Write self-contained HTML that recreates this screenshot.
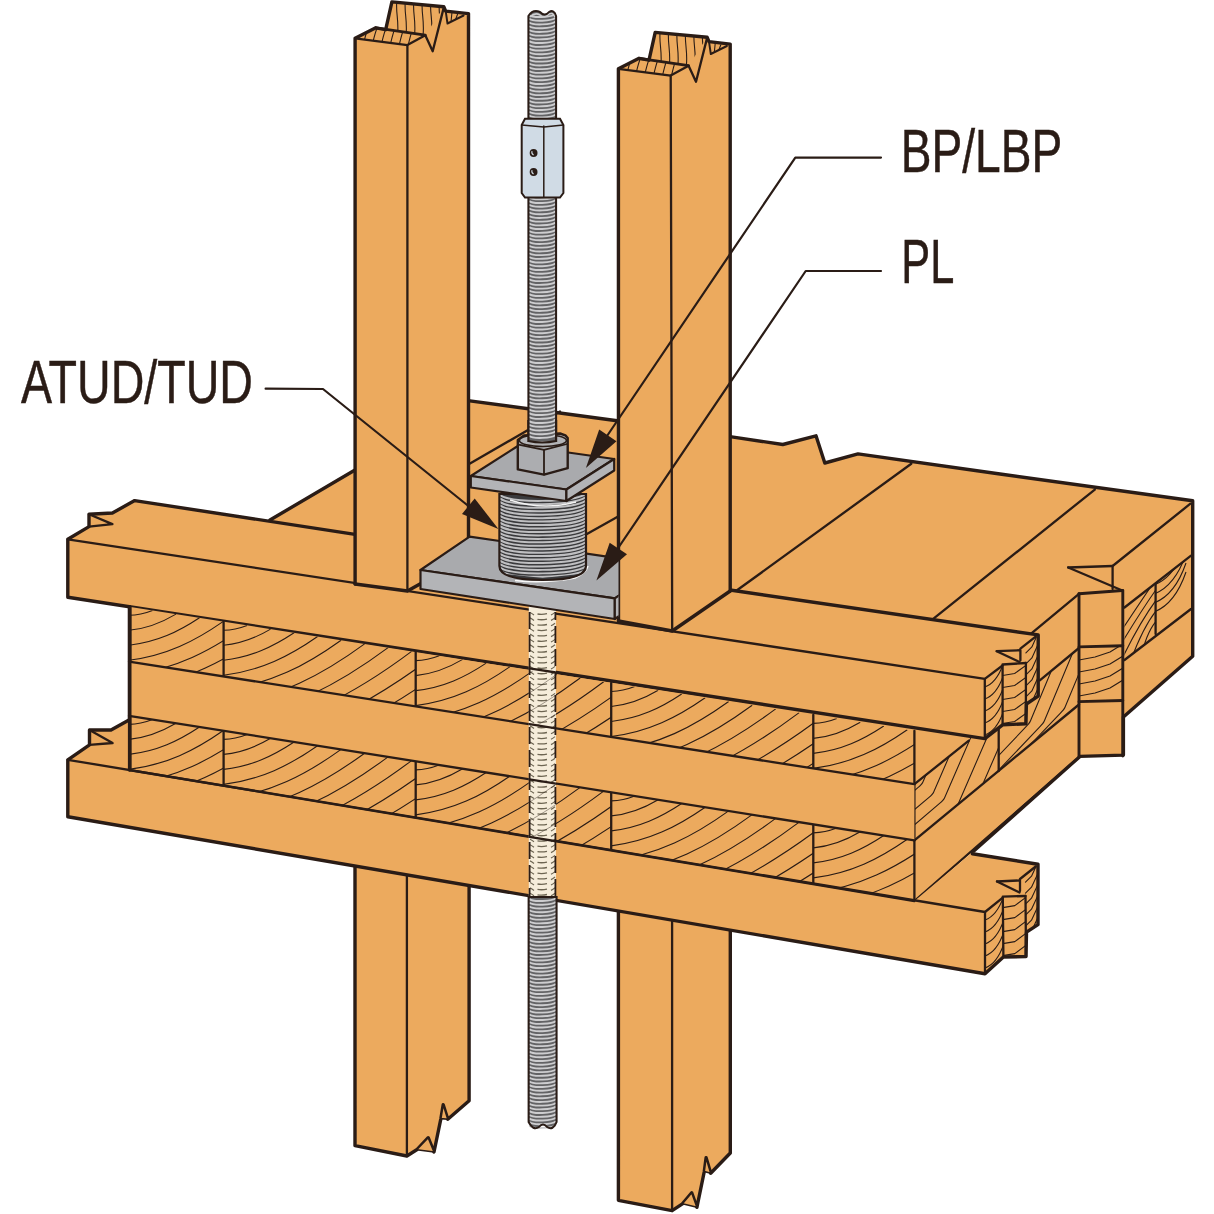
<!DOCTYPE html>
<html><head><meta charset="utf-8"><style>
html,body{margin:0;padding:0;background:#fff;}
svg{display:block;}
</style></head><body>
<svg width="1214" height="1214" viewBox="0 0 1214 1214">
<defs><clipPath id="c1"><polygon points="1124.5,607.5 1155.6,583.5 1155.6,636.0 1124.5,660.0"/></clipPath><clipPath id="c2"><polygon points="1155.6,583.5 1191.0,555.6 1191.0,609.0 1155.6,636.0"/></clipPath><clipPath id="c3"><polygon points="1079.0,646.9 1122.8,645.8 1122.8,700.5 1079.0,701.6"/></clipPath><clipPath id="c4"><polygon points="914.4,784.2 998.7,714.5 998.7,770.8 914.4,840.4"/></clipPath><clipPath id="c5"><polygon points="998.7,714.5 1079.0,648.0 1079.0,704.5 998.7,770.8"/></clipPath><clipPath id="c6"><polygon points="984.8,678.9 1002.6,665.5 1002.6,724.8 984.8,738.6"/></clipPath><clipPath id="c7"><polygon points="1002.6,665.5 1025.9,663.0 1025.9,723.8 1002.6,724.8"/></clipPath><clipPath id="c8"><polygon points="1035.3,636.9 1038.2,634.9 1038.2,696.1 1026.4,704.0 1025.9,663.0 1020.4,660.6 1020.4,648.7"/></clipPath><clipPath id="c9"><polygon points="385.7,29.7 391.9,1.9 443.8,6.8 425.3,35.2"/></clipPath><clipPath id="c10"><polygon points="355.1,38.3 375.8,27.8 425.3,35.2 407.4,45.1"/></clipPath><clipPath id="c11"><polygon points="445.7,11.1 447.5,23.5 463.6,15.5"/></clipPath><clipPath id="c12"><polygon points="649.0,60.2 655.2,32.4 707.1,37.3 688.6,65.7"/></clipPath><clipPath id="c13"><polygon points="618.4,68.8 639.1,58.3 688.6,65.7 670.7,75.6"/></clipPath><clipPath id="c14"><polygon points="709.0,41.6 710.8,54.0 726.9,46.0"/></clipPath><clipPath id="c15"><polygon points="129.0,606.7 223.6,621.6 223.6,676.5 129.0,661.7"/></clipPath><clipPath id="c16"><polygon points="129.0,715.8 223.6,730.8 223.6,785.7 129.0,770.0"/></clipPath><clipPath id="c17"><polygon points="223.6,621.6 415.7,652.0 415.7,706.4 223.6,676.5"/></clipPath><clipPath id="c18"><polygon points="223.6,730.8 415.7,761.3 415.7,817.6 223.6,785.7"/></clipPath><clipPath id="c19"><polygon points="415.7,652.0 611.2,682.9 611.2,736.9 415.7,706.4"/></clipPath><clipPath id="c20"><polygon points="415.7,761.3 611.2,792.3 611.2,850.0 415.7,817.6"/></clipPath><clipPath id="c21"><polygon points="611.2,682.9 813.3,714.8 813.3,768.5 611.2,736.9"/></clipPath><clipPath id="c22"><polygon points="611.2,792.3 813.3,824.3 813.3,883.6 611.2,850.0"/></clipPath><clipPath id="c23"><polygon points="813.3,714.8 914.4,730.8 914.4,784.2 813.3,768.5"/></clipPath><clipPath id="c24"><polygon points="813.3,824.3 914.4,840.4 914.4,900.4 813.3,883.6"/></clipPath><clipPath id="c25"><polygon points="985.0,912.0 1002.8,897.6 1003.4,957.0 985.0,973.7"/></clipPath><clipPath id="c26"><polygon points="1002.8,897.6 1025.5,896.0 1026.0,956.5 1003.4,957.0"/></clipPath><clipPath id="c27"><polygon points="1035.7,866.5 1038.0,864.2 1038.0,924.7 1026.5,932.2 1025.5,896.0 1020.0,891.0 1020.0,879.0"/></clipPath><clipPath id="c28"><polygon points="528.8,600.0 555.9,600.0 555.9,897.0 528.8,897.0"/></clipPath><clipPath id="c29"><polygon points="528.0,897.0 557.0,897.0 557.0,1135.0 528.0,1135.0"/></clipPath><clipPath id="c30"><polygon points="400.0,520.0 618.5,520.0 618.5,630.0 400.0,630.0"/></clipPath><clipPath id="c31"><polygon points="499.4,490.0 586.0,490.0 586.0,566.0 580.0,574.0 542.7,578.0 505.0,574.0 499.4,566.0"/></clipPath></defs>
<rect width="1214" height="1214" fill="#fff"/>
<polygon points="270.0,520.0 468.0,401.0 619.0,421.0 730.0,436.6 782.8,444.5 816.0,435.8 824.8,463.0 858.0,453.9 1000.0,474.0 1192.7,500.8 1192.7,656.3 1123.4,717.0 1123.4,755.1 1080.0,756.4 972.4,852.2 914.4,901.0 129.0,770.0 129.0,600.0 200.0,520.0" fill="#ecaa5e" stroke="none" stroke-width="0" stroke-linejoin="round" />
<polyline points="270.0,520.0 355.0,470.0" fill="none" stroke="#2a1c16" stroke-width="3.4" stroke-linejoin="round" stroke-linecap="round" />
<polyline points="468.0,400.6 619.0,421.0" fill="none" stroke="#2a1c16" stroke-width="3.4" stroke-linejoin="round" stroke-linecap="round" />
<polyline points="730.0,436.6 782.8,444.5 816.0,435.8 824.8,463.0 858.0,453.9 1000.0,474.0 1192.7,500.8 1192.7,656.3 1123.4,717.0 1123.4,755.1 1080.0,756.4 972.4,852.2" fill="none" stroke="#2a1c16" stroke-width="3.4" stroke-linejoin="round" stroke-linecap="round" />
<polyline points="737.0,590.3 911.3,463.8" fill="none" stroke="#2a1c16" stroke-width="2.3" stroke-linejoin="round" stroke-linecap="round" />
<polyline points="933.5,618.7 1094.8,489.6" fill="none" stroke="#2a1c16" stroke-width="2.3" stroke-linejoin="round" stroke-linecap="round" />
<polyline points="470.0,463.6 560.0,411.5" fill="none" stroke="#2a1c16" stroke-width="2.3" stroke-linejoin="round" stroke-linecap="round" />
<polyline points="586.0,534.5 619.0,516.0" fill="none" stroke="#2a1c16" stroke-width="2.3" stroke-linejoin="round" stroke-linecap="round" />
<polyline points="1190.4,503.7 1112.6,566.0 1112.6,589.0" fill="none" stroke="#2a1c16" stroke-width="2.3" stroke-linejoin="round" stroke-linecap="round" />
<polyline points="1068.2,567.5 1112.6,566.0" fill="none" stroke="#2a1c16" stroke-width="2.3" stroke-linejoin="round" stroke-linecap="round" />
<polyline points="1068.2,567.5 1122.3,590.5" fill="none" stroke="#2a1c16" stroke-width="2.3" stroke-linejoin="round" stroke-linecap="round" />
<polyline points="1124.5,607.5 1191.0,555.6" fill="none" stroke="#2a1c16" stroke-width="2.3" stroke-linejoin="round" stroke-linecap="round" />
<polyline points="1124.5,660.0 1191.0,609.0" fill="none" stroke="#2a1c16" stroke-width="2.3" stroke-linejoin="round" stroke-linecap="round" />
<polyline points="1155.6,583.8 1155.6,634.0" fill="none" stroke="#2a1c16" stroke-width="2.3" stroke-linejoin="round" stroke-linecap="round" />
<g clip-path="url(#c1)">
<path d="M1140.2,662.0 Q1145.8,631.6 1158.0,619.2" fill="none" stroke="#2a1c16" stroke-width="1.1"/>
<path d="M1130.3,662.0 Q1143.1,626.2 1158.0,608.4" fill="none" stroke="#2a1c16" stroke-width="1.1"/>
<path d="M1120.4,662.0 Q1140.4,620.8 1158.0,597.6" fill="none" stroke="#2a1c16" stroke-width="1.1"/>
<path d="M1110.5,662.0 Q1137.7,615.4 1158.0,586.8" fill="none" stroke="#2a1c16" stroke-width="1.1"/>
<path d="M1100.6,662.0 Q1135.0,610.0 1158.0,576.0" fill="none" stroke="#2a1c16" stroke-width="1.1"/>
</g>
<g clip-path="url(#c2)">
<path d="M1154,612.0 Q1175,604.0 1186.0,572.0" fill="none" stroke="#2a1c16" stroke-width="1.1"/>
<path d="M1154,603.0 Q1175,595.0 1186.0,563.0" fill="none" stroke="#2a1c16" stroke-width="1.1"/>
<path d="M1154,594.0 Q1175,586.0 1186.0,554.0" fill="none" stroke="#2a1c16" stroke-width="1.1"/>
<path d="M1154,585.0 Q1175,577.0 1186.0,545.0" fill="none" stroke="#2a1c16" stroke-width="1.1"/>
<path d="M1154,576.0 Q1175,568.0 1186.0,536.0" fill="none" stroke="#2a1c16" stroke-width="1.1"/>
<path d="M1154,567.0 Q1175,559.0 1186.0,527.0" fill="none" stroke="#2a1c16" stroke-width="1.1"/>
</g>
<polyline points="1079.0,593.8 1122.3,590.5" fill="none" stroke="#2a1c16" stroke-width="2.9" stroke-linejoin="round" stroke-linecap="round" />
<polyline points="1079.0,593.8 1079.0,756.6" fill="none" stroke="#2a1c16" stroke-width="2.9" stroke-linejoin="round" stroke-linecap="round" />
<polyline points="1122.8,590.5 1122.8,756.0" fill="none" stroke="#2a1c16" stroke-width="2.9" stroke-linejoin="round" stroke-linecap="round" />
<polyline points="1079.0,646.9 1122.8,645.8" fill="none" stroke="#2a1c16" stroke-width="2.9" stroke-linejoin="round" stroke-linecap="round" />
<polyline points="1079.0,701.6 1122.8,700.5" fill="none" stroke="#2a1c16" stroke-width="2.9" stroke-linejoin="round" stroke-linecap="round" />
<g clip-path="url(#c3)">
<polyline points="1079.0,660.0 1095.0,657.0 1110.0,652.0 1123.0,644.0" fill="none" stroke="#2a1c16" stroke-width="1.1" stroke-linejoin="round" stroke-linecap="round" />
<polyline points="1079.0,672.0 1095.0,669.0 1110.0,664.0 1123.0,656.0" fill="none" stroke="#2a1c16" stroke-width="1.1" stroke-linejoin="round" stroke-linecap="round" />
<polyline points="1079.0,684.0 1095.0,681.0 1110.0,676.0 1123.0,668.0" fill="none" stroke="#2a1c16" stroke-width="1.1" stroke-linejoin="round" stroke-linecap="round" />
<polyline points="1079.0,696.0 1095.0,693.0 1110.0,688.0 1123.0,680.0" fill="none" stroke="#2a1c16" stroke-width="1.1" stroke-linejoin="round" stroke-linecap="round" />
</g>
<polyline points="1031.1,633.6 1079.0,593.8" fill="none" stroke="#2a1c16" stroke-width="2.3" stroke-linejoin="round" stroke-linecap="round" />
<polyline points="1039.8,680.3 1079.0,648.0" fill="none" stroke="#2a1c16" stroke-width="2.3" stroke-linejoin="round" stroke-linecap="round" />
<polyline points="914.4,784.2 968.8,740.7" fill="none" stroke="#2a1c16" stroke-width="2.3" stroke-linejoin="round" stroke-linecap="round" />
<polyline points="914.4,840.4 1079.0,704.5" fill="none" stroke="#2a1c16" stroke-width="2.3" stroke-linejoin="round" stroke-linecap="round" />
<polyline points="914.4,901.0 1080.0,756.4" fill="none" stroke="#2a1c16" stroke-width="2.3" stroke-linejoin="round" stroke-linecap="round" />
<polyline points="998.7,729.0 998.7,771.0" fill="none" stroke="#2a1c16" stroke-width="2.3" stroke-linejoin="round" stroke-linecap="round" />
<g clip-path="url(#c4)">
<path d="M831.9,860.8 L917.9,787.7 Q921.9,784.3 922.8,782.3 L961.0,694.3" fill="none" stroke="#2a1c16" stroke-width="1.1"/>
<path d="M842.7,870.7 L928.7,797.6 Q932.7,794.2 933.6,792.2 L971.8,704.2" fill="none" stroke="#2a1c16" stroke-width="1.1"/>
<path d="M853.6,876.5 L939.6,803.4 Q943.6,800.0 944.5,798.0 L982.7,710.0" fill="none" stroke="#2a1c16" stroke-width="1.1"/>
<path d="M866.4,884.5 L952.4,811.4 Q956.4,808.0 957.3,806.0 L995.5,718.0" fill="none" stroke="#2a1c16" stroke-width="1.1"/>
<path d="M885.0,878.5 L971.0,805.4 Q975.0,802.0 975.9,800.0 L1014.1,712.0" fill="none" stroke="#2a1c16" stroke-width="1.1"/>
</g>
<g clip-path="url(#c5)">
<path d="M939.6,817.5 L1025.6,727.2 Q1029.6,723.0 1030.4,721.0 L1067.1,633.0" fill="none" stroke="#2a1c16" stroke-width="1.1"/>
<path d="M953.5,817.5 L1039.5,727.2 Q1043.5,723.0 1044.3,721.0 L1081.0,633.0" fill="none" stroke="#2a1c16" stroke-width="1.1"/>
<path d="M974.2,803.7 L1060.2,713.4 Q1064.2,709.2 1065.0,707.2 L1101.7,619.2" fill="none" stroke="#2a1c16" stroke-width="1.1"/>
</g>
<polygon points="67.8,539.3 89.0,526.6 89.0,514.2 112.4,513.0 134.7,500.6 1038.2,634.9 1038.2,696.1 1026.4,704.0 1025.9,723.8 1002.6,724.8 984.8,738.6 67.8,597.2" fill="#ecaa5e" stroke="none" stroke-width="0" stroke-linejoin="round" />
<polyline points="355.0,534.4 134.7,500.6 112.4,513.0 89.0,514.2 89.0,526.6 67.8,539.3 67.8,597.2 984.8,738.6 1002.6,724.8 1025.9,723.8 1026.4,704.0 1038.2,696.1 1038.2,634.9 730.0,590.0" fill="none" stroke="#2a1c16" stroke-width="3.4" stroke-linejoin="round" stroke-linecap="round" />
<polyline points="67.8,539.3 984.8,678.9 984.8,738.6" fill="none" stroke="#2a1c16" stroke-width="2.3" stroke-linejoin="round" stroke-linecap="round" />
<polyline points="89.0,526.6 112.4,524.1 89.0,514.2" fill="none" stroke="#2a1c16" stroke-width="2.3" stroke-linejoin="round" stroke-linecap="round" />
<polyline points="984.8,678.9 1002.6,665.5" fill="none" stroke="#2a1c16" stroke-width="2.3" stroke-linejoin="round" stroke-linecap="round" />
<polyline points="1002.6,665.5 1002.6,724.8" fill="none" stroke="#2a1c16" stroke-width="2.3" stroke-linejoin="round" stroke-linecap="round" />
<polyline points="1002.6,664.5 1025.9,663.0" fill="none" stroke="#2a1c16" stroke-width="2.3" stroke-linejoin="round" stroke-linecap="round" />
<polyline points="1025.9,663.0 1025.9,723.8" fill="none" stroke="#2a1c16" stroke-width="2.3" stroke-linejoin="round" stroke-linecap="round" />
<polyline points="996.7,651.2 1020.4,650.2 1020.4,660.6" fill="none" stroke="#2a1c16" stroke-width="2.3" stroke-linejoin="round" stroke-linecap="round" />
<polyline points="996.7,651.2 1019.4,662.0" fill="none" stroke="#2a1c16" stroke-width="2.3" stroke-linejoin="round" stroke-linecap="round" />
<polyline points="1020.4,648.7 1035.3,636.9" fill="none" stroke="#2a1c16" stroke-width="2.3" stroke-linejoin="round" stroke-linecap="round" />
<g clip-path="url(#c6)">
<path d="M984.8,686.9 Q996.8,682.9 1003.6,662.9" fill="none" stroke="#2a1c16" stroke-width="1.1"/>
<path d="M984.8,698.9 Q996.8,694.9 1003.6,674.9" fill="none" stroke="#2a1c16" stroke-width="1.1"/>
<path d="M984.8,710.9 Q996.8,706.9 1003.6,686.9" fill="none" stroke="#2a1c16" stroke-width="1.1"/>
<path d="M984.8,722.9 Q996.8,718.9 1003.6,698.9" fill="none" stroke="#2a1c16" stroke-width="1.1"/>
<path d="M984.8,734.9 Q996.8,730.9 1003.6,710.9" fill="none" stroke="#2a1c16" stroke-width="1.1"/>
</g>
<g clip-path="url(#c7)">
<polyline points="1002.6,675.5 1014.6,673.5 1025.9,665.5" fill="none" stroke="#2a1c16" stroke-width="1.1" stroke-linejoin="round" stroke-linecap="round" />
<polyline points="1002.6,687.5 1014.6,685.5 1025.9,677.5" fill="none" stroke="#2a1c16" stroke-width="1.1" stroke-linejoin="round" stroke-linecap="round" />
<polyline points="1002.6,699.5 1014.6,697.5 1025.9,689.5" fill="none" stroke="#2a1c16" stroke-width="1.1" stroke-linejoin="round" stroke-linecap="round" />
<polyline points="1002.6,711.5 1014.6,709.5 1025.9,701.5" fill="none" stroke="#2a1c16" stroke-width="1.1" stroke-linejoin="round" stroke-linecap="round" />
<polyline points="1002.6,723.5 1014.6,721.5 1025.9,713.5" fill="none" stroke="#2a1c16" stroke-width="1.1" stroke-linejoin="round" stroke-linecap="round" />
</g>
<g clip-path="url(#c8)">
<polyline points="1025.9,652.9 1031.9,646.9 1038.2,632.9" fill="none" stroke="#2a1c16" stroke-width="1.1" stroke-linejoin="round" stroke-linecap="round" />
<polyline points="1025.9,663.9 1031.9,657.9 1038.2,643.9" fill="none" stroke="#2a1c16" stroke-width="1.1" stroke-linejoin="round" stroke-linecap="round" />
<polyline points="1025.9,674.9 1031.9,668.9 1038.2,654.9" fill="none" stroke="#2a1c16" stroke-width="1.1" stroke-linejoin="round" stroke-linecap="round" />
<polyline points="1025.9,685.9 1031.9,679.9 1038.2,665.9" fill="none" stroke="#2a1c16" stroke-width="1.1" stroke-linejoin="round" stroke-linecap="round" />
<polyline points="1025.9,696.9 1031.9,690.9 1038.2,676.9" fill="none" stroke="#2a1c16" stroke-width="1.1" stroke-linejoin="round" stroke-linecap="round" />
<polyline points="1025.9,707.9 1031.9,701.9 1038.2,687.9" fill="none" stroke="#2a1c16" stroke-width="1.1" stroke-linejoin="round" stroke-linecap="round" />
</g>
<polygon points="355.1,38.3 375.8,27.8 385.7,29.7 391.9,1.9 443.8,6.8 445.7,11.1 468.5,13.6 468.5,557.0 407.4,591.0 355.1,584.0" fill="#ecaa5e" stroke="none" stroke-width="0" stroke-linejoin="round" />
<g clip-path="url(#c9)">
<path d="M397.0,0 C395.0,12 400.0,22 397.0,40" fill="none" stroke="#2a1c16" stroke-width="1.1"/>
<path d="M405.5,0 C403.5,12 408.5,22 405.5,40" fill="none" stroke="#2a1c16" stroke-width="1.1"/>
<path d="M414.0,0 C412.0,12 417.0,22 414.0,40" fill="none" stroke="#2a1c16" stroke-width="1.1"/>
<path d="M422.5,0 C420.5,12 425.5,22 422.5,40" fill="none" stroke="#2a1c16" stroke-width="1.1"/>
<path d="M431.0,0 C429.0,12 434.0,22 431.0,40" fill="none" stroke="#2a1c16" stroke-width="1.1"/>
<path d="M439.5,0 C437.5,12 442.5,22 439.5,40" fill="none" stroke="#2a1c16" stroke-width="1.1"/>
</g>
<g clip-path="url(#c10)">
<path d="M369,26 C366,32 365,38 363,46" fill="none" stroke="#2a1c16" stroke-width="1.1"/>
<path d="M378,26 C375,32 374,38 372,46" fill="none" stroke="#2a1c16" stroke-width="1.1"/>
<path d="M387,26 C384,32 383,38 381,46" fill="none" stroke="#2a1c16" stroke-width="1.1"/>
<path d="M396,26 C393,32 392,38 390,46" fill="none" stroke="#2a1c16" stroke-width="1.1"/>
<path d="M405,26 C402,32 401,38 399,46" fill="none" stroke="#2a1c16" stroke-width="1.1"/>
<path d="M414,26 C411,32 410,38 408,46" fill="none" stroke="#2a1c16" stroke-width="1.1"/>
</g>
<g clip-path="url(#c11)">
<polyline points="452.0,12.0 451.0,22.0" fill="none" stroke="#2a1c16" stroke-width="1.1" stroke-linejoin="round" stroke-linecap="round" />
<polyline points="458.0,13.0 455.0,21.0" fill="none" stroke="#2a1c16" stroke-width="1.1" stroke-linejoin="round" stroke-linecap="round" />
</g>
<polyline points="355.1,584.0 355.1,38.3 375.8,27.8 385.7,29.7 391.9,1.9 443.8,6.8 445.7,11.1 468.5,13.6 468.5,557.0" fill="none" stroke="#2a1c16" stroke-width="3.4" stroke-linejoin="round" stroke-linecap="round" />
<polyline points="355.1,38.3 407.4,45.1 425.3,35.2 432.7,51.3 443.8,7.4" fill="none" stroke="#2a1c16" stroke-width="2.3" stroke-linejoin="round" stroke-linecap="round" />
<polyline points="375.8,27.8 425.3,35.2" fill="none" stroke="#2a1c16" stroke-width="2.8" stroke-linejoin="round" stroke-linecap="round" />
<polyline points="445.7,11.1 447.5,23.5 463.6,15.5" fill="none" stroke="#2a1c16" stroke-width="1.9549999999999998" stroke-linejoin="round" stroke-linecap="round" />
<polyline points="407.4,45.1 407.4,591.0" fill="none" stroke="#2a1c16" stroke-width="2.3" stroke-linejoin="round" stroke-linecap="round" />
<polyline points="355.1,584.0 407.4,591.0 468.5,557.0" fill="none" stroke="#2a1c16" stroke-width="3.4" stroke-linejoin="round" stroke-linecap="round" />
<polygon points="618.4,68.8 639.1,58.3 649.0,60.2 655.2,32.4 707.1,37.3 709.0,41.6 730.2,44.1 730.2,591.0 672.2,631.0 618.5,621.0" fill="#ecaa5e" stroke="none" stroke-width="0" stroke-linejoin="round" />
<g clip-path="url(#c12)">
<path d="M660.3,30.5 C658.3,42.5 663.3,52.5 660.3,70.5" fill="none" stroke="#2a1c16" stroke-width="1.1"/>
<path d="M668.8,30.5 C666.8,42.5 671.8,52.5 668.8,70.5" fill="none" stroke="#2a1c16" stroke-width="1.1"/>
<path d="M677.3,30.5 C675.3,42.5 680.3,52.5 677.3,70.5" fill="none" stroke="#2a1c16" stroke-width="1.1"/>
<path d="M685.8,30.5 C683.8,42.5 688.8,52.5 685.8,70.5" fill="none" stroke="#2a1c16" stroke-width="1.1"/>
<path d="M694.3,30.5 C692.3,42.5 697.3,52.5 694.3,70.5" fill="none" stroke="#2a1c16" stroke-width="1.1"/>
<path d="M702.8,30.5 C700.8,42.5 705.8,52.5 702.8,70.5" fill="none" stroke="#2a1c16" stroke-width="1.1"/>
</g>
<g clip-path="url(#c13)">
<path d="M632.3,56.5 C629.3,62.5 628.3,68.5 626.3,76.5" fill="none" stroke="#2a1c16" stroke-width="1.1"/>
<path d="M641.3,56.5 C638.3,62.5 637.3,68.5 635.3,76.5" fill="none" stroke="#2a1c16" stroke-width="1.1"/>
<path d="M650.3,56.5 C647.3,62.5 646.3,68.5 644.3,76.5" fill="none" stroke="#2a1c16" stroke-width="1.1"/>
<path d="M659.3,56.5 C656.3,62.5 655.3,68.5 653.3,76.5" fill="none" stroke="#2a1c16" stroke-width="1.1"/>
<path d="M668.3,56.5 C665.3,62.5 664.3,68.5 662.3,76.5" fill="none" stroke="#2a1c16" stroke-width="1.1"/>
<path d="M677.3,56.5 C674.3,62.5 673.3,68.5 671.3,76.5" fill="none" stroke="#2a1c16" stroke-width="1.1"/>
</g>
<g clip-path="url(#c14)">
<polyline points="715.3,42.5 714.3,52.5" fill="none" stroke="#2a1c16" stroke-width="1.1" stroke-linejoin="round" stroke-linecap="round" />
<polyline points="721.3,43.5 718.3,51.5" fill="none" stroke="#2a1c16" stroke-width="1.1" stroke-linejoin="round" stroke-linecap="round" />
</g>
<polyline points="618.5,621.0 618.4,68.8 639.1,58.3 649.0,60.2 655.2,32.4 707.1,37.3 709.0,41.6 730.2,44.1 730.2,591.0" fill="none" stroke="#2a1c16" stroke-width="3.4" stroke-linejoin="round" stroke-linecap="round" />
<polyline points="618.4,68.8 670.7,75.6 688.6,65.7 696.0,81.8 707.1,37.9" fill="none" stroke="#2a1c16" stroke-width="2.3" stroke-linejoin="round" stroke-linecap="round" />
<polyline points="639.1,58.3 688.6,65.7" fill="none" stroke="#2a1c16" stroke-width="2.8" stroke-linejoin="round" stroke-linecap="round" />
<polyline points="709.0,41.6 710.8,54.0 726.9,46.0" fill="none" stroke="#2a1c16" stroke-width="1.9549999999999998" stroke-linejoin="round" stroke-linecap="round" />
<polyline points="670.7,75.6 672.2,631.0" fill="none" stroke="#2a1c16" stroke-width="2.3" stroke-linejoin="round" stroke-linecap="round" />
<polyline points="618.5,621.0 672.2,631.0 730.2,591.0" fill="none" stroke="#2a1c16" stroke-width="3.4" stroke-linejoin="round" stroke-linecap="round" />
<polygon points="355.0,840.0 469.1,840.0 469.1,1100.8 447.8,1119.2 443.2,1104.8 440.9,1118.6 434.0,1152.0 428.2,1137.7 416.7,1149.8 406.9,1156.0 355.0,1145.7" fill="#ecaa5e" stroke="none" stroke-width="0" stroke-linejoin="round" />
<polyline points="355.0,840.0 355.0,1145.7 406.9,1156.0 416.7,1149.8 428.2,1137.7 434.0,1152.0 440.9,1118.6 443.2,1104.8 447.8,1119.2 469.1,1100.8 469.1,840.0" fill="none" stroke="#2a1c16" stroke-width="3.4" stroke-linejoin="round" stroke-linecap="round" />
<polyline points="406.9,840.0 406.9,1156.0" fill="none" stroke="#2a1c16" stroke-width="2.3" stroke-linejoin="round" stroke-linecap="round" />
<polygon points="416.7,1149.8 428.2,1137.7 434.0,1152.0" fill="#ecaa5e" stroke="#2a1c16" stroke-width="1.6" stroke-linejoin="round" />
<polygon points="440.9,1118.6 443.2,1104.8 447.8,1119.2" fill="#ecaa5e" stroke="#2a1c16" stroke-width="1.6" stroke-linejoin="round" />
<polygon points="618.4,885.0 730.3,885.0 730.3,1153.0 710.7,1173.2 706.1,1157.7 704.3,1171.5 696.9,1207.3 691.7,1192.8 682.4,1203.8 672.1,1210.7 618.4,1200.3" fill="#ecaa5e" stroke="none" stroke-width="0" stroke-linejoin="round" />
<polyline points="618.4,885.0 618.4,1200.3 672.1,1210.7 682.4,1203.8 691.7,1192.8 696.9,1207.3 704.3,1171.5 706.1,1157.7 710.7,1173.2 730.3,1153.0 730.3,885.0" fill="none" stroke="#2a1c16" stroke-width="3.4" stroke-linejoin="round" stroke-linecap="round" />
<polyline points="672.1,885.0 672.1,1210.7" fill="none" stroke="#2a1c16" stroke-width="2.3" stroke-linejoin="round" stroke-linecap="round" />
<polygon points="682.4,1203.8 691.7,1192.8 696.9,1207.3" fill="#ecaa5e" stroke="#2a1c16" stroke-width="1.6" stroke-linejoin="round" />
<polygon points="704.3,1171.5 706.1,1157.7 710.7,1173.2" fill="#ecaa5e" stroke="#2a1c16" stroke-width="1.6" stroke-linejoin="round" />
<polygon points="129.0,606.7 914.4,730.8 914.4,784.2 129.0,661.7" fill="#ecaa5e" stroke="none" stroke-width="0" stroke-linejoin="round" />
<g clip-path="url(#c15)">
<path d="M129.0,615.3 C138.4,615.1 145.4,613.2 152.5,610.4" fill="none" stroke="#2a1c16" stroke-width="1.1"/>
<path d="M129.0,630.3 C147.8,628.6 161.9,622.5 176.0,614.1" fill="none" stroke="#2a1c16" stroke-width="1.1"/>
<path d="M129.0,645.3 C157.2,642.0 178.3,631.9 199.5,617.8" fill="none" stroke="#2a1c16" stroke-width="1.1"/>
<path d="M129.0,660.3 C166.6,655.5 194.8,641.2 223.0,621.6" fill="none" stroke="#2a1c16" stroke-width="1.1"/>
<path d="M129.0,675.3 C176.0,669.0 211.2,650.6 246.5,625.3" fill="none" stroke="#2a1c16" stroke-width="1.1"/>
<path d="M129.0,690.3 C185.4,682.5 227.7,659.9 270.0,629.0" fill="none" stroke="#2a1c16" stroke-width="1.1"/>
</g>
<g clip-path="url(#c16)">
<path d="M129.0,724.4 C138.4,724.2 145.4,722.3 152.5,719.5" fill="none" stroke="#2a1c16" stroke-width="1.1"/>
<path d="M129.0,739.4 C147.8,737.7 161.9,731.6 176.0,723.3" fill="none" stroke="#2a1c16" stroke-width="1.1"/>
<path d="M129.0,754.4 C157.2,751.2 178.3,741.0 199.5,727.0" fill="none" stroke="#2a1c16" stroke-width="1.1"/>
<path d="M129.0,769.4 C166.6,764.6 194.8,750.4 223.0,730.7" fill="none" stroke="#2a1c16" stroke-width="1.1"/>
<path d="M129.0,784.4 C176.0,778.1 211.2,759.7 246.5,734.4" fill="none" stroke="#2a1c16" stroke-width="1.1"/>
<path d="M129.0,799.4 C185.4,791.6 227.7,769.1 270.0,738.2" fill="none" stroke="#2a1c16" stroke-width="1.1"/>
</g>
<g clip-path="url(#c17)">
<path d="M223.6,630.2 C233.0,630.0 240.0,628.1 247.1,625.4" fill="none" stroke="#2a1c16" stroke-width="1.1"/>
<path d="M223.6,645.2 C242.4,643.5 256.5,637.5 270.6,629.1" fill="none" stroke="#2a1c16" stroke-width="1.1"/>
<path d="M223.6,660.2 C251.8,657.0 272.9,646.8 294.1,632.8" fill="none" stroke="#2a1c16" stroke-width="1.1"/>
<path d="M223.6,675.2 C261.2,670.5 289.4,656.2 317.6,636.5" fill="none" stroke="#2a1c16" stroke-width="1.1"/>
<path d="M223.6,690.2 C270.6,684.0 305.9,665.5 341.1,640.2" fill="none" stroke="#2a1c16" stroke-width="1.1"/>
<path d="M223.6,705.2 C280.0,697.4 322.3,674.9 364.6,643.9" fill="none" stroke="#2a1c16" stroke-width="1.1"/>
<path d="M223.6,720.2 C289.4,710.9 338.8,684.2 388.1,647.6" fill="none" stroke="#2a1c16" stroke-width="1.1"/>
<path d="M223.6,735.2 C298.8,724.4 355.2,693.6 411.6,651.4" fill="none" stroke="#2a1c16" stroke-width="1.1"/>
<path d="M223.6,750.2 C308.2,737.9 371.6,702.9 435.1,655.1" fill="none" stroke="#2a1c16" stroke-width="1.1"/>
<path d="M223.6,765.2 C317.6,751.4 388.1,712.3 458.6,658.8" fill="none" stroke="#2a1c16" stroke-width="1.1"/>
</g>
<g clip-path="url(#c18)">
<path d="M223.6,739.4 C233.0,739.2 240.0,737.3 247.1,734.5" fill="none" stroke="#2a1c16" stroke-width="1.1"/>
<path d="M223.6,754.4 C242.4,752.7 256.5,746.6 270.6,738.3" fill="none" stroke="#2a1c16" stroke-width="1.1"/>
<path d="M223.6,769.4 C251.8,766.2 272.9,756.0 294.1,742.0" fill="none" stroke="#2a1c16" stroke-width="1.1"/>
<path d="M223.6,784.4 C261.2,779.6 289.4,765.4 317.6,745.7" fill="none" stroke="#2a1c16" stroke-width="1.1"/>
<path d="M223.6,799.4 C270.6,793.1 305.9,774.7 341.1,749.4" fill="none" stroke="#2a1c16" stroke-width="1.1"/>
<path d="M223.6,814.4 C280.0,806.6 322.3,784.1 364.6,753.2" fill="none" stroke="#2a1c16" stroke-width="1.1"/>
<path d="M223.6,829.4 C289.4,820.1 338.8,793.4 388.1,756.9" fill="none" stroke="#2a1c16" stroke-width="1.1"/>
<path d="M223.6,844.4 C298.8,833.6 355.2,802.8 411.6,760.6" fill="none" stroke="#2a1c16" stroke-width="1.1"/>
<path d="M223.6,859.4 C308.2,847.1 371.6,812.2 435.1,764.3" fill="none" stroke="#2a1c16" stroke-width="1.1"/>
<path d="M223.6,874.4 C317.6,860.6 388.1,821.5 458.6,768.1" fill="none" stroke="#2a1c16" stroke-width="1.1"/>
</g>
<g clip-path="url(#c19)">
<path d="M415.7,660.6 C425.1,660.4 432.1,658.5 439.2,655.7" fill="none" stroke="#2a1c16" stroke-width="1.1"/>
<path d="M415.7,675.6 C434.5,673.8 448.6,667.8 462.7,659.4" fill="none" stroke="#2a1c16" stroke-width="1.1"/>
<path d="M415.7,690.6 C443.9,687.3 465.0,677.2 486.2,663.1" fill="none" stroke="#2a1c16" stroke-width="1.1"/>
<path d="M415.7,705.6 C453.3,700.8 481.5,686.5 509.7,666.9" fill="none" stroke="#2a1c16" stroke-width="1.1"/>
<path d="M415.7,720.6 C462.7,714.3 497.9,695.9 533.2,670.6" fill="none" stroke="#2a1c16" stroke-width="1.1"/>
<path d="M415.7,735.6 C472.1,727.8 514.4,705.2 556.7,674.3" fill="none" stroke="#2a1c16" stroke-width="1.1"/>
<path d="M415.7,750.6 C481.5,741.3 530.9,714.6 580.2,678.0" fill="none" stroke="#2a1c16" stroke-width="1.1"/>
<path d="M415.7,765.6 C490.9,754.8 547.3,723.9 603.7,681.7" fill="none" stroke="#2a1c16" stroke-width="1.1"/>
<path d="M415.7,780.6 C500.3,768.2 563.8,733.3 627.2,685.4" fill="none" stroke="#2a1c16" stroke-width="1.1"/>
<path d="M415.7,795.6 C509.7,781.7 580.2,742.6 650.7,689.1" fill="none" stroke="#2a1c16" stroke-width="1.1"/>
</g>
<g clip-path="url(#c20)">
<path d="M415.7,769.9 C425.1,769.6 432.1,767.7 439.2,765.0" fill="none" stroke="#2a1c16" stroke-width="1.1"/>
<path d="M415.7,784.9 C434.5,783.1 448.6,777.1 462.7,768.7" fill="none" stroke="#2a1c16" stroke-width="1.1"/>
<path d="M415.7,799.9 C443.9,796.6 465.0,786.5 486.2,772.5" fill="none" stroke="#2a1c16" stroke-width="1.1"/>
<path d="M415.7,814.9 C453.3,810.1 481.5,795.8 509.7,776.2" fill="none" stroke="#2a1c16" stroke-width="1.1"/>
<path d="M415.7,829.9 C462.7,823.6 497.9,805.2 533.2,779.9" fill="none" stroke="#2a1c16" stroke-width="1.1"/>
<path d="M415.7,844.9 C472.1,837.1 514.4,814.5 556.7,783.6" fill="none" stroke="#2a1c16" stroke-width="1.1"/>
<path d="M415.7,859.9 C481.5,850.6 530.9,823.9 580.2,787.4" fill="none" stroke="#2a1c16" stroke-width="1.1"/>
<path d="M415.7,874.9 C490.9,864.1 547.3,833.3 603.7,791.1" fill="none" stroke="#2a1c16" stroke-width="1.1"/>
<path d="M415.7,889.9 C500.3,877.6 563.8,842.6 627.2,794.8" fill="none" stroke="#2a1c16" stroke-width="1.1"/>
<path d="M415.7,904.9 C509.7,891.1 580.2,852.0 650.7,798.5" fill="none" stroke="#2a1c16" stroke-width="1.1"/>
</g>
<g clip-path="url(#c21)">
<path d="M611.2,691.5 C620.6,691.3 627.7,689.4 634.7,686.6" fill="none" stroke="#2a1c16" stroke-width="1.1"/>
<path d="M611.2,706.5 C630.0,704.7 644.1,698.7 658.2,690.3" fill="none" stroke="#2a1c16" stroke-width="1.1"/>
<path d="M611.2,721.5 C639.4,718.2 660.6,708.1 681.7,694.0" fill="none" stroke="#2a1c16" stroke-width="1.1"/>
<path d="M611.2,736.5 C648.8,731.7 677.0,717.4 705.2,697.7" fill="none" stroke="#2a1c16" stroke-width="1.1"/>
<path d="M611.2,751.5 C658.2,745.2 693.5,726.8 728.7,701.5" fill="none" stroke="#2a1c16" stroke-width="1.1"/>
<path d="M611.2,766.5 C667.6,758.7 709.9,736.1 752.2,705.2" fill="none" stroke="#2a1c16" stroke-width="1.1"/>
<path d="M611.2,781.5 C677.0,772.2 726.4,745.5 775.7,708.9" fill="none" stroke="#2a1c16" stroke-width="1.1"/>
<path d="M611.2,796.5 C686.4,785.6 742.8,754.8 799.2,712.6" fill="none" stroke="#2a1c16" stroke-width="1.1"/>
<path d="M611.2,811.5 C695.8,799.1 759.2,764.1 822.7,716.3" fill="none" stroke="#2a1c16" stroke-width="1.1"/>
<path d="M611.2,826.5 C705.2,812.6 775.7,773.5 846.2,720.0" fill="none" stroke="#2a1c16" stroke-width="1.1"/>
<path d="M611.2,841.5 C714.6,826.1 792.2,782.8 869.7,723.7" fill="none" stroke="#2a1c16" stroke-width="1.1"/>
</g>
<g clip-path="url(#c22)">
<path d="M611.2,800.9 C620.6,800.6 627.7,798.8 634.7,796.0" fill="none" stroke="#2a1c16" stroke-width="1.1"/>
<path d="M611.2,815.9 C630.0,814.1 644.1,808.1 658.2,799.7" fill="none" stroke="#2a1c16" stroke-width="1.1"/>
<path d="M611.2,830.9 C639.4,827.6 660.6,817.5 681.7,803.5" fill="none" stroke="#2a1c16" stroke-width="1.1"/>
<path d="M611.2,845.9 C648.8,841.1 677.0,826.8 705.2,807.2" fill="none" stroke="#2a1c16" stroke-width="1.1"/>
<path d="M611.2,860.9 C658.2,854.6 693.5,836.2 728.7,810.9" fill="none" stroke="#2a1c16" stroke-width="1.1"/>
<path d="M611.2,875.9 C667.6,868.1 709.9,845.6 752.2,814.6" fill="none" stroke="#2a1c16" stroke-width="1.1"/>
<path d="M611.2,890.9 C677.0,881.6 726.4,854.9 775.7,818.4" fill="none" stroke="#2a1c16" stroke-width="1.1"/>
<path d="M611.2,905.9 C686.4,895.1 742.8,864.3 799.2,822.1" fill="none" stroke="#2a1c16" stroke-width="1.1"/>
<path d="M611.2,920.9 C695.8,908.6 759.2,873.6 822.7,825.8" fill="none" stroke="#2a1c16" stroke-width="1.1"/>
<path d="M611.2,935.9 C705.2,922.1 775.7,883.0 846.2,829.5" fill="none" stroke="#2a1c16" stroke-width="1.1"/>
<path d="M611.2,950.9 C714.6,935.6 792.2,892.3 869.7,833.3" fill="none" stroke="#2a1c16" stroke-width="1.1"/>
</g>
<g clip-path="url(#c23)">
<path d="M813.3,723.4 C822.7,723.2 829.8,721.3 836.8,718.5" fill="none" stroke="#2a1c16" stroke-width="1.1"/>
<path d="M813.3,738.4 C832.1,736.7 846.2,730.6 860.3,722.2" fill="none" stroke="#2a1c16" stroke-width="1.1"/>
<path d="M813.3,753.4 C841.5,750.2 862.6,740.0 883.8,726.0" fill="none" stroke="#2a1c16" stroke-width="1.1"/>
<path d="M813.3,768.4 C850.9,763.6 879.1,749.3 907.3,729.7" fill="none" stroke="#2a1c16" stroke-width="1.1"/>
<path d="M813.3,783.4 C860.3,777.1 895.5,758.7 930.8,733.4" fill="none" stroke="#2a1c16" stroke-width="1.1"/>
<path d="M813.3,798.4 C869.7,790.6 912.0,768.0 954.3,737.1" fill="none" stroke="#2a1c16" stroke-width="1.1"/>
</g>
<g clip-path="url(#c24)">
<path d="M813.3,832.9 C822.7,832.7 829.8,830.8 836.8,828.1" fill="none" stroke="#2a1c16" stroke-width="1.1"/>
<path d="M813.3,847.9 C832.1,846.2 846.2,840.2 860.3,831.8" fill="none" stroke="#2a1c16" stroke-width="1.1"/>
<path d="M813.3,862.9 C841.5,859.7 862.6,849.5 883.8,835.5" fill="none" stroke="#2a1c16" stroke-width="1.1"/>
<path d="M813.3,877.9 C850.9,873.2 879.1,858.9 907.3,839.2" fill="none" stroke="#2a1c16" stroke-width="1.1"/>
<path d="M813.3,892.9 C860.3,886.7 895.5,868.2 930.8,843.0" fill="none" stroke="#2a1c16" stroke-width="1.1"/>
<path d="M813.3,907.9 C869.7,900.2 912.0,877.6 954.3,846.7" fill="none" stroke="#2a1c16" stroke-width="1.1"/>
</g>
<polyline points="129.6,606.7 129.6,770.0" fill="none" stroke="#2a1c16" stroke-width="3.4" stroke-linejoin="round" stroke-linecap="round" />
<polyline points="914.4,730.8 914.4,901.0" fill="none" stroke="#2a1c16" stroke-width="2.3" stroke-linejoin="round" stroke-linecap="round" />
<polyline points="223.6,621.6 223.6,676.5" fill="none" stroke="#2a1c16" stroke-width="2.3" stroke-linejoin="round" stroke-linecap="round" />
<polyline points="223.6,730.8 223.6,785.7" fill="none" stroke="#2a1c16" stroke-width="2.3" stroke-linejoin="round" stroke-linecap="round" />
<polyline points="415.7,652.0 415.7,706.4" fill="none" stroke="#2a1c16" stroke-width="2.3" stroke-linejoin="round" stroke-linecap="round" />
<polyline points="415.7,761.3 415.7,817.6" fill="none" stroke="#2a1c16" stroke-width="2.3" stroke-linejoin="round" stroke-linecap="round" />
<polyline points="611.2,682.9 611.2,736.9" fill="none" stroke="#2a1c16" stroke-width="2.3" stroke-linejoin="round" stroke-linecap="round" />
<polyline points="611.2,792.3 611.2,850.0" fill="none" stroke="#2a1c16" stroke-width="2.3" stroke-linejoin="round" stroke-linecap="round" />
<polyline points="813.3,714.8 813.3,768.5" fill="none" stroke="#2a1c16" stroke-width="2.3" stroke-linejoin="round" stroke-linecap="round" />
<polyline points="813.3,824.3 813.3,883.6" fill="none" stroke="#2a1c16" stroke-width="2.3" stroke-linejoin="round" stroke-linecap="round" />
<polygon points="129.0,661.7 914.4,784.2 914.4,840.4 129.0,715.8" fill="#ecaa5e" stroke="none" stroke-width="0" stroke-linejoin="round" />
<polyline points="129.0,661.7 914.4,784.2" fill="none" stroke="#2a1c16" stroke-width="2.3" stroke-linejoin="round" stroke-linecap="round" />
<polyline points="129.0,715.8 914.4,840.4" fill="none" stroke="#2a1c16" stroke-width="2.3" stroke-linejoin="round" stroke-linecap="round" />
<polyline points="129.6,606.7 129.6,770.0" fill="none" stroke="#2a1c16" stroke-width="3.4" stroke-linejoin="round" stroke-linecap="round" />
<polygon points="67.8,759.8 89.5,744.8 89.5,730.0 111.0,730.0 129.0,720.0 129.0,770.0 914.4,901.0 972.4,852.2 1038.0,864.2 1038.0,924.7 1026.5,932.2 1026.0,956.5 1003.4,957.0 985.0,973.7 67.8,816.8" fill="#ecaa5e" stroke="none" stroke-width="0" stroke-linejoin="round" />
<polyline points="129.0,720.0 111.0,730.0 89.5,730.0 89.5,744.8 67.8,759.8 67.8,816.8 985.0,973.7 1003.4,957.0 1026.0,956.5 1026.5,932.2 1038.0,924.7 1038.0,864.2 972.4,853.8" fill="none" stroke="#2a1c16" stroke-width="3.4" stroke-linejoin="round" stroke-linecap="round" />
<polyline points="129.0,770.0 914.4,901.0" fill="none" stroke="#2a1c16" stroke-width="2.3" stroke-linejoin="round" stroke-linecap="round" />
<polyline points="67.8,759.8 985.0,912.0 985.0,973.7" fill="none" stroke="#2a1c16" stroke-width="2.3" stroke-linejoin="round" stroke-linecap="round" />
<polyline points="89.5,744.8 112.6,743.0 89.5,730.0" fill="none" stroke="#2a1c16" stroke-width="2.3" stroke-linejoin="round" stroke-linecap="round" />
<polyline points="985.0,912.0 1002.8,897.6" fill="none" stroke="#2a1c16" stroke-width="2.3" stroke-linejoin="round" stroke-linecap="round" />
<polyline points="1002.8,897.6 1003.4,957.0" fill="none" stroke="#2a1c16" stroke-width="2.3" stroke-linejoin="round" stroke-linecap="round" />
<polyline points="1002.8,896.6 1025.5,896.0" fill="none" stroke="#2a1c16" stroke-width="2.3" stroke-linejoin="round" stroke-linecap="round" />
<polyline points="1025.5,896.0 1026.0,956.5" fill="none" stroke="#2a1c16" stroke-width="2.3" stroke-linejoin="round" stroke-linecap="round" />
<polyline points="997.0,881.5 1020.0,880.4 1020.0,891.0" fill="none" stroke="#2a1c16" stroke-width="2.3" stroke-linejoin="round" stroke-linecap="round" />
<polyline points="997.0,881.5 1019.5,892.5" fill="none" stroke="#2a1c16" stroke-width="2.3" stroke-linejoin="round" stroke-linecap="round" />
<polyline points="1020.0,879.0 1035.7,866.5" fill="none" stroke="#2a1c16" stroke-width="2.3" stroke-linejoin="round" stroke-linecap="round" />
<g clip-path="url(#c25)">
<path d="M985.0,920.0 Q997.0,916.0 1003.8,896.0" fill="none" stroke="#2a1c16" stroke-width="1.1"/>
<path d="M985.0,932.0 Q997.0,928.0 1003.8,908.0" fill="none" stroke="#2a1c16" stroke-width="1.1"/>
<path d="M985.0,944.0 Q997.0,940.0 1003.8,920.0" fill="none" stroke="#2a1c16" stroke-width="1.1"/>
<path d="M985.0,956.0 Q997.0,952.0 1003.8,932.0" fill="none" stroke="#2a1c16" stroke-width="1.1"/>
<path d="M985.0,968.0 Q997.0,964.0 1003.8,944.0" fill="none" stroke="#2a1c16" stroke-width="1.1"/>
</g>
<g clip-path="url(#c26)">
<polyline points="1002.8,907.6 1014.8,905.6 1025.5,897.6" fill="none" stroke="#2a1c16" stroke-width="1.1" stroke-linejoin="round" stroke-linecap="round" />
<polyline points="1002.8,919.6 1014.8,917.6 1025.5,909.6" fill="none" stroke="#2a1c16" stroke-width="1.1" stroke-linejoin="round" stroke-linecap="round" />
<polyline points="1002.8,931.6 1014.8,929.6 1025.5,921.6" fill="none" stroke="#2a1c16" stroke-width="1.1" stroke-linejoin="round" stroke-linecap="round" />
<polyline points="1002.8,943.6 1014.8,941.6 1025.5,933.6" fill="none" stroke="#2a1c16" stroke-width="1.1" stroke-linejoin="round" stroke-linecap="round" />
<polyline points="1002.8,955.6 1014.8,953.6 1025.5,945.6" fill="none" stroke="#2a1c16" stroke-width="1.1" stroke-linejoin="round" stroke-linecap="round" />
</g>
<g clip-path="url(#c27)">
<polyline points="1025.5,882.2 1031.5,876.2 1038.0,862.2" fill="none" stroke="#2a1c16" stroke-width="1.1" stroke-linejoin="round" stroke-linecap="round" />
<polyline points="1025.5,893.2 1031.5,887.2 1038.0,873.2" fill="none" stroke="#2a1c16" stroke-width="1.1" stroke-linejoin="round" stroke-linecap="round" />
<polyline points="1025.5,904.2 1031.5,898.2 1038.0,884.2" fill="none" stroke="#2a1c16" stroke-width="1.1" stroke-linejoin="round" stroke-linecap="round" />
<polyline points="1025.5,915.2 1031.5,909.2 1038.0,895.2" fill="none" stroke="#2a1c16" stroke-width="1.1" stroke-linejoin="round" stroke-linecap="round" />
<polyline points="1025.5,926.2 1031.5,920.2 1038.0,906.2" fill="none" stroke="#2a1c16" stroke-width="1.1" stroke-linejoin="round" stroke-linecap="round" />
<polyline points="1025.5,937.2 1031.5,931.2 1038.0,917.2" fill="none" stroke="#2a1c16" stroke-width="1.1" stroke-linejoin="round" stroke-linecap="round" />
</g>
<polyline points="129.6,606.7 129.6,770.0" fill="none" stroke="#2a1c16" stroke-width="3.4" stroke-linejoin="round" stroke-linecap="round" />
<rect x="528.8" y="605" width="27.1" height="292" fill="#f6eddb"/>
<path d="M537.5,614.0 Q542,614.8 547,613.7" fill="none" stroke="#6d6552" stroke-width="1.3"/>
<path d="M530,612.5 Q532,613.5 534,615.0 M551,615.0 Q553,614.0 555,612.4" fill="none" stroke="#6d6552" stroke-width="1.2"/>
<path d="M537.5,619.4 Q542,620.2 547,619.1" fill="none" stroke="#6d6552" stroke-width="1.3"/>
<path d="M530,617.9 Q532,618.9 534,620.4 M551,620.4 Q553,619.4 555,617.8" fill="none" stroke="#6d6552" stroke-width="1.2"/>
<path d="M537.5,624.8 Q542,625.6 547,624.5" fill="none" stroke="#6d6552" stroke-width="1.3"/>
<path d="M530,623.3 Q532,624.3 534,625.8 M551,625.8 Q553,624.8 555,623.2" fill="none" stroke="#6d6552" stroke-width="1.2"/>
<path d="M537.5,630.2 Q542,631.0 547,629.9" fill="none" stroke="#6d6552" stroke-width="1.3"/>
<path d="M530,628.7 Q532,629.7 534,631.2 M551,631.2 Q553,630.2 555,628.6" fill="none" stroke="#6d6552" stroke-width="1.2"/>
<path d="M537.5,635.6 Q542,636.4 547,635.3" fill="none" stroke="#6d6552" stroke-width="1.3"/>
<path d="M530,634.1 Q532,635.1 534,636.6 M551,636.6 Q553,635.6 555,634.0" fill="none" stroke="#6d6552" stroke-width="1.2"/>
<path d="M537.5,641.0 Q542,641.8 547,640.7" fill="none" stroke="#6d6552" stroke-width="1.3"/>
<path d="M530,639.5 Q532,640.5 534,642.0 M551,642.0 Q553,641.0 555,639.4" fill="none" stroke="#6d6552" stroke-width="1.2"/>
<path d="M537.5,646.4 Q542,647.2 547,646.1" fill="none" stroke="#6d6552" stroke-width="1.3"/>
<path d="M530,644.9 Q532,645.9 534,647.4 M551,647.4 Q553,646.4 555,644.8" fill="none" stroke="#6d6552" stroke-width="1.2"/>
<path d="M537.5,651.8 Q542,652.6 547,651.5" fill="none" stroke="#6d6552" stroke-width="1.3"/>
<path d="M530,650.3 Q532,651.3 534,652.8 M551,652.8 Q553,651.8 555,650.2" fill="none" stroke="#6d6552" stroke-width="1.2"/>
<path d="M537.5,657.2 Q542,658.0 547,656.9" fill="none" stroke="#6d6552" stroke-width="1.3"/>
<path d="M530,655.7 Q532,656.7 534,658.2 M551,658.2 Q553,657.2 555,655.6" fill="none" stroke="#6d6552" stroke-width="1.2"/>
<path d="M537.5,662.6 Q542,663.4 547,662.3" fill="none" stroke="#6d6552" stroke-width="1.3"/>
<path d="M530,661.1 Q532,662.1 534,663.6 M551,663.6 Q553,662.6 555,661.0" fill="none" stroke="#6d6552" stroke-width="1.2"/>
<path d="M537.5,668.0 Q542,668.8 547,667.7" fill="none" stroke="#6d6552" stroke-width="1.3"/>
<path d="M530,666.5 Q532,667.5 534,669.0 M551,669.0 Q553,668.0 555,666.4" fill="none" stroke="#6d6552" stroke-width="1.2"/>
<path d="M537.5,673.4 Q542,674.2 547,673.1" fill="none" stroke="#6d6552" stroke-width="1.3"/>
<path d="M530,671.9 Q532,672.9 534,674.4 M551,674.4 Q553,673.4 555,671.8" fill="none" stroke="#6d6552" stroke-width="1.2"/>
<path d="M537.5,678.8 Q542,679.6 547,678.5" fill="none" stroke="#6d6552" stroke-width="1.3"/>
<path d="M530,677.3 Q532,678.3 534,679.8 M551,679.8 Q553,678.8 555,677.2" fill="none" stroke="#6d6552" stroke-width="1.2"/>
<path d="M537.5,684.2 Q542,685.0 547,683.9" fill="none" stroke="#6d6552" stroke-width="1.3"/>
<path d="M530,682.7 Q532,683.7 534,685.2 M551,685.2 Q553,684.2 555,682.6" fill="none" stroke="#6d6552" stroke-width="1.2"/>
<path d="M537.5,689.6 Q542,690.4 547,689.3" fill="none" stroke="#6d6552" stroke-width="1.3"/>
<path d="M530,688.1 Q532,689.1 534,690.6 M551,690.6 Q553,689.6 555,688.0" fill="none" stroke="#6d6552" stroke-width="1.2"/>
<path d="M537.5,695.0 Q542,695.8 547,694.7" fill="none" stroke="#6d6552" stroke-width="1.3"/>
<path d="M530,693.5 Q532,694.5 534,696.0 M551,696.0 Q553,695.0 555,693.4" fill="none" stroke="#6d6552" stroke-width="1.2"/>
<path d="M537.5,700.4 Q542,701.2 547,700.1" fill="none" stroke="#6d6552" stroke-width="1.3"/>
<path d="M530,698.9 Q532,699.9 534,701.4 M551,701.4 Q553,700.4 555,698.8" fill="none" stroke="#6d6552" stroke-width="1.2"/>
<path d="M537.5,705.8 Q542,706.6 547,705.5" fill="none" stroke="#6d6552" stroke-width="1.3"/>
<path d="M530,704.3 Q532,705.3 534,706.8 M551,706.8 Q553,705.8 555,704.2" fill="none" stroke="#6d6552" stroke-width="1.2"/>
<path d="M537.5,711.2 Q542,712.0 547,710.9" fill="none" stroke="#6d6552" stroke-width="1.3"/>
<path d="M530,709.7 Q532,710.7 534,712.2 M551,712.2 Q553,711.2 555,709.6" fill="none" stroke="#6d6552" stroke-width="1.2"/>
<path d="M537.5,716.6 Q542,717.4 547,716.3" fill="none" stroke="#6d6552" stroke-width="1.3"/>
<path d="M530,715.1 Q532,716.1 534,717.6 M551,717.6 Q553,716.6 555,715.0" fill="none" stroke="#6d6552" stroke-width="1.2"/>
<path d="M537.5,722.0 Q542,722.8 547,721.7" fill="none" stroke="#6d6552" stroke-width="1.3"/>
<path d="M530,720.5 Q532,721.5 534,723.0 M551,723.0 Q553,722.0 555,720.4" fill="none" stroke="#6d6552" stroke-width="1.2"/>
<path d="M537.5,727.4 Q542,728.2 547,727.1" fill="none" stroke="#6d6552" stroke-width="1.3"/>
<path d="M530,725.9 Q532,726.9 534,728.4 M551,728.4 Q553,727.4 555,725.8" fill="none" stroke="#6d6552" stroke-width="1.2"/>
<path d="M537.5,732.8 Q542,733.6 547,732.5" fill="none" stroke="#6d6552" stroke-width="1.3"/>
<path d="M530,731.3 Q532,732.3 534,733.8 M551,733.8 Q553,732.8 555,731.2" fill="none" stroke="#6d6552" stroke-width="1.2"/>
<path d="M537.5,738.2 Q542,739.0 547,737.9" fill="none" stroke="#6d6552" stroke-width="1.3"/>
<path d="M530,736.7 Q532,737.7 534,739.2 M551,739.2 Q553,738.2 555,736.6" fill="none" stroke="#6d6552" stroke-width="1.2"/>
<path d="M537.5,743.6 Q542,744.4 547,743.3" fill="none" stroke="#6d6552" stroke-width="1.3"/>
<path d="M530,742.1 Q532,743.1 534,744.6 M551,744.6 Q553,743.6 555,742.0" fill="none" stroke="#6d6552" stroke-width="1.2"/>
<path d="M537.5,749.0 Q542,749.8 547,748.7" fill="none" stroke="#6d6552" stroke-width="1.3"/>
<path d="M530,747.5 Q532,748.5 534,750.0 M551,750.0 Q553,749.0 555,747.4" fill="none" stroke="#6d6552" stroke-width="1.2"/>
<path d="M537.5,754.4 Q542,755.2 547,754.1" fill="none" stroke="#6d6552" stroke-width="1.3"/>
<path d="M530,752.9 Q532,753.9 534,755.4 M551,755.4 Q553,754.4 555,752.8" fill="none" stroke="#6d6552" stroke-width="1.2"/>
<path d="M537.5,759.8 Q542,760.6 547,759.5" fill="none" stroke="#6d6552" stroke-width="1.3"/>
<path d="M530,758.3 Q532,759.3 534,760.8 M551,760.8 Q553,759.8 555,758.2" fill="none" stroke="#6d6552" stroke-width="1.2"/>
<path d="M537.5,765.2 Q542,766.0 547,764.9" fill="none" stroke="#6d6552" stroke-width="1.3"/>
<path d="M530,763.7 Q532,764.7 534,766.2 M551,766.2 Q553,765.2 555,763.6" fill="none" stroke="#6d6552" stroke-width="1.2"/>
<path d="M537.5,770.6 Q542,771.4 547,770.3" fill="none" stroke="#6d6552" stroke-width="1.3"/>
<path d="M530,769.1 Q532,770.1 534,771.6 M551,771.6 Q553,770.6 555,769.0" fill="none" stroke="#6d6552" stroke-width="1.2"/>
<path d="M537.5,776.0 Q542,776.8 547,775.7" fill="none" stroke="#6d6552" stroke-width="1.3"/>
<path d="M530,774.5 Q532,775.5 534,777.0 M551,777.0 Q553,776.0 555,774.4" fill="none" stroke="#6d6552" stroke-width="1.2"/>
<path d="M537.5,781.4 Q542,782.2 547,781.1" fill="none" stroke="#6d6552" stroke-width="1.3"/>
<path d="M530,779.9 Q532,780.9 534,782.4 M551,782.4 Q553,781.4 555,779.8" fill="none" stroke="#6d6552" stroke-width="1.2"/>
<path d="M537.5,786.8 Q542,787.6 547,786.5" fill="none" stroke="#6d6552" stroke-width="1.3"/>
<path d="M530,785.3 Q532,786.3 534,787.8 M551,787.8 Q553,786.8 555,785.2" fill="none" stroke="#6d6552" stroke-width="1.2"/>
<path d="M537.5,792.2 Q542,793.0 547,791.9" fill="none" stroke="#6d6552" stroke-width="1.3"/>
<path d="M530,790.7 Q532,791.7 534,793.2 M551,793.2 Q553,792.2 555,790.6" fill="none" stroke="#6d6552" stroke-width="1.2"/>
<path d="M537.5,797.6 Q542,798.4 547,797.3" fill="none" stroke="#6d6552" stroke-width="1.3"/>
<path d="M530,796.1 Q532,797.1 534,798.6 M551,798.6 Q553,797.6 555,796.0" fill="none" stroke="#6d6552" stroke-width="1.2"/>
<path d="M537.5,803.0 Q542,803.8 547,802.7" fill="none" stroke="#6d6552" stroke-width="1.3"/>
<path d="M530,801.5 Q532,802.5 534,804.0 M551,804.0 Q553,803.0 555,801.4" fill="none" stroke="#6d6552" stroke-width="1.2"/>
<path d="M537.5,808.4 Q542,809.2 547,808.1" fill="none" stroke="#6d6552" stroke-width="1.3"/>
<path d="M530,806.9 Q532,807.9 534,809.4 M551,809.4 Q553,808.4 555,806.8" fill="none" stroke="#6d6552" stroke-width="1.2"/>
<path d="M537.5,813.8 Q542,814.6 547,813.5" fill="none" stroke="#6d6552" stroke-width="1.3"/>
<path d="M530,812.3 Q532,813.3 534,814.8 M551,814.8 Q553,813.8 555,812.2" fill="none" stroke="#6d6552" stroke-width="1.2"/>
<path d="M537.5,819.2 Q542,820.0 547,818.9" fill="none" stroke="#6d6552" stroke-width="1.3"/>
<path d="M530,817.7 Q532,818.7 534,820.2 M551,820.2 Q553,819.2 555,817.6" fill="none" stroke="#6d6552" stroke-width="1.2"/>
<path d="M537.5,824.6 Q542,825.4 547,824.3" fill="none" stroke="#6d6552" stroke-width="1.3"/>
<path d="M530,823.1 Q532,824.1 534,825.6 M551,825.6 Q553,824.6 555,823.0" fill="none" stroke="#6d6552" stroke-width="1.2"/>
<path d="M537.5,830.0 Q542,830.8 547,829.7" fill="none" stroke="#6d6552" stroke-width="1.3"/>
<path d="M530,828.5 Q532,829.5 534,831.0 M551,831.0 Q553,830.0 555,828.4" fill="none" stroke="#6d6552" stroke-width="1.2"/>
<path d="M537.5,835.4 Q542,836.2 547,835.1" fill="none" stroke="#6d6552" stroke-width="1.3"/>
<path d="M530,833.9 Q532,834.9 534,836.4 M551,836.4 Q553,835.4 555,833.8" fill="none" stroke="#6d6552" stroke-width="1.2"/>
<path d="M537.5,840.8 Q542,841.6 547,840.5" fill="none" stroke="#6d6552" stroke-width="1.3"/>
<path d="M530,839.3 Q532,840.3 534,841.8 M551,841.8 Q553,840.8 555,839.2" fill="none" stroke="#6d6552" stroke-width="1.2"/>
<path d="M537.5,846.2 Q542,847.0 547,845.9" fill="none" stroke="#6d6552" stroke-width="1.3"/>
<path d="M530,844.7 Q532,845.7 534,847.2 M551,847.2 Q553,846.2 555,844.6" fill="none" stroke="#6d6552" stroke-width="1.2"/>
<path d="M537.5,851.6 Q542,852.4 547,851.3" fill="none" stroke="#6d6552" stroke-width="1.3"/>
<path d="M530,850.1 Q532,851.1 534,852.6 M551,852.6 Q553,851.6 555,850.0" fill="none" stroke="#6d6552" stroke-width="1.2"/>
<path d="M537.5,857.0 Q542,857.8 547,856.7" fill="none" stroke="#6d6552" stroke-width="1.3"/>
<path d="M530,855.5 Q532,856.5 534,858.0 M551,858.0 Q553,857.0 555,855.4" fill="none" stroke="#6d6552" stroke-width="1.2"/>
<path d="M537.5,862.4 Q542,863.2 547,862.1" fill="none" stroke="#6d6552" stroke-width="1.3"/>
<path d="M530,860.9 Q532,861.9 534,863.4 M551,863.4 Q553,862.4 555,860.8" fill="none" stroke="#6d6552" stroke-width="1.2"/>
<path d="M537.5,867.8 Q542,868.6 547,867.5" fill="none" stroke="#6d6552" stroke-width="1.3"/>
<path d="M530,866.3 Q532,867.3 534,868.8 M551,868.8 Q553,867.8 555,866.2" fill="none" stroke="#6d6552" stroke-width="1.2"/>
<path d="M537.5,873.2 Q542,874.0 547,872.9" fill="none" stroke="#6d6552" stroke-width="1.3"/>
<path d="M530,871.7 Q532,872.7 534,874.2 M551,874.2 Q553,873.2 555,871.6" fill="none" stroke="#6d6552" stroke-width="1.2"/>
<path d="M537.5,878.6 Q542,879.4 547,878.3" fill="none" stroke="#6d6552" stroke-width="1.3"/>
<path d="M530,877.1 Q532,878.1 534,879.6 M551,879.6 Q553,878.6 555,877.0" fill="none" stroke="#6d6552" stroke-width="1.2"/>
<path d="M537.5,884.0 Q542,884.8 547,883.7" fill="none" stroke="#6d6552" stroke-width="1.3"/>
<path d="M530,882.5 Q532,883.5 534,885.0 M551,885.0 Q553,884.0 555,882.4" fill="none" stroke="#6d6552" stroke-width="1.2"/>
<path d="M537.5,889.4 Q542,890.2 547,889.1" fill="none" stroke="#6d6552" stroke-width="1.3"/>
<path d="M530,887.9 Q532,888.9 534,890.4 M551,890.4 Q553,889.4 555,887.8" fill="none" stroke="#6d6552" stroke-width="1.2"/>
<path d="M537.5,894.8 Q542,895.6 547,894.5" fill="none" stroke="#6d6552" stroke-width="1.3"/>
<path d="M530,893.3 Q532,894.3 534,895.8 M551,895.8 Q553,894.8 555,893.2" fill="none" stroke="#6d6552" stroke-width="1.2"/>
<line x1="529.6" y1="612" x2="529.6" y2="897" stroke="#2a1c16" stroke-width="1.8" stroke-dasharray="17 6"/>
<line x1="555.4" y1="612" x2="555.4" y2="897" stroke="#2a1c16" stroke-width="1.8" stroke-dasharray="17 6" stroke-dashoffset="9"/>
<g clip-path="url(#c28)"><polyline points="67.8,597.2 984.8,738.6" fill="none" stroke="#2a1c16" stroke-width="2.3" stroke-linejoin="round" stroke-linecap="round" /><polyline points="129.0,661.7 914.4,784.2" fill="none" stroke="#2a1c16" stroke-width="2.3" stroke-linejoin="round" stroke-linecap="round" /><polyline points="129.0,715.8 914.4,840.4" fill="none" stroke="#2a1c16" stroke-width="2.3" stroke-linejoin="round" stroke-linecap="round" /><polyline points="129.0,770.0 914.4,901.0" fill="none" stroke="#2a1c16" stroke-width="2.3" stroke-linejoin="round" stroke-linecap="round" /><g clip-path="url(#c19)"><path d="M415.7,660.6 C425.1,660.4 432.1,658.5 439.2,655.7" fill="none" stroke="#2a1c16" stroke-width="0.7" stroke-opacity="0.6"/><path d="M415.7,675.6 C434.5,673.8 448.6,667.8 462.7,659.4" fill="none" stroke="#2a1c16" stroke-width="0.7" stroke-opacity="0.6"/><path d="M415.7,690.6 C443.9,687.3 465.0,677.2 486.2,663.1" fill="none" stroke="#2a1c16" stroke-width="0.7" stroke-opacity="0.6"/><path d="M415.7,705.6 C453.3,700.8 481.5,686.5 509.7,666.9" fill="none" stroke="#2a1c16" stroke-width="0.7" stroke-opacity="0.6"/><path d="M415.7,720.6 C462.7,714.3 497.9,695.9 533.2,670.6" fill="none" stroke="#2a1c16" stroke-width="0.7" stroke-opacity="0.6"/><path d="M415.7,735.6 C472.1,727.8 514.4,705.2 556.7,674.3" fill="none" stroke="#2a1c16" stroke-width="0.7" stroke-opacity="0.6"/><path d="M415.7,750.6 C481.5,741.3 530.9,714.6 580.2,678.0" fill="none" stroke="#2a1c16" stroke-width="0.7" stroke-opacity="0.6"/><path d="M415.7,765.6 C490.9,754.8 547.3,723.9 603.7,681.7" fill="none" stroke="#2a1c16" stroke-width="0.7" stroke-opacity="0.6"/><path d="M415.7,780.6 C500.3,768.2 563.8,733.3 627.2,685.4" fill="none" stroke="#2a1c16" stroke-width="0.7" stroke-opacity="0.6"/><path d="M415.7,795.6 C509.7,781.7 580.2,742.6 650.7,689.1" fill="none" stroke="#2a1c16" stroke-width="0.7" stroke-opacity="0.6"/></g><g clip-path="url(#c20)"><path d="M415.7,769.9 C425.1,769.6 432.1,767.7 439.2,765.0" fill="none" stroke="#2a1c16" stroke-width="0.7" stroke-opacity="0.6"/><path d="M415.7,784.9 C434.5,783.1 448.6,777.1 462.7,768.7" fill="none" stroke="#2a1c16" stroke-width="0.7" stroke-opacity="0.6"/><path d="M415.7,799.9 C443.9,796.6 465.0,786.5 486.2,772.5" fill="none" stroke="#2a1c16" stroke-width="0.7" stroke-opacity="0.6"/><path d="M415.7,814.9 C453.3,810.1 481.5,795.8 509.7,776.2" fill="none" stroke="#2a1c16" stroke-width="0.7" stroke-opacity="0.6"/><path d="M415.7,829.9 C462.7,823.6 497.9,805.2 533.2,779.9" fill="none" stroke="#2a1c16" stroke-width="0.7" stroke-opacity="0.6"/><path d="M415.7,844.9 C472.1,837.1 514.4,814.5 556.7,783.6" fill="none" stroke="#2a1c16" stroke-width="0.7" stroke-opacity="0.6"/><path d="M415.7,859.9 C481.5,850.6 530.9,823.9 580.2,787.4" fill="none" stroke="#2a1c16" stroke-width="0.7" stroke-opacity="0.6"/><path d="M415.7,874.9 C490.9,864.1 547.3,833.3 603.7,791.1" fill="none" stroke="#2a1c16" stroke-width="0.7" stroke-opacity="0.6"/><path d="M415.7,889.9 C500.3,877.6 563.8,842.6 627.2,794.8" fill="none" stroke="#2a1c16" stroke-width="0.7" stroke-opacity="0.6"/><path d="M415.7,904.9 C509.7,891.1 580.2,852.0 650.7,798.5" fill="none" stroke="#2a1c16" stroke-width="0.7" stroke-opacity="0.6"/></g></g>
<path d="M528.6,897 L528.6,1122 Q533,1131 539,1127 Q543,1122 547,1127 Q553,1131 556.6,1122 L556.6,897 Z" fill="#636365"/>
<g clip-path="url(#c29)"><path d="M529.4,899.0 C532.6,902.2 552.6,901.4 555.8,898.2" fill="none" stroke="#cdcdcf" stroke-width="1.9"/><path d="M529.4,902.7 C532.6,905.9 552.6,905.1 555.8,901.9" fill="none" stroke="#cdcdcf" stroke-width="1.9"/><path d="M529.4,906.4 C532.6,909.6 552.6,908.8 555.8,905.6" fill="none" stroke="#cdcdcf" stroke-width="1.9"/><path d="M529.4,910.2 C532.6,913.4 552.6,912.6 555.8,909.4" fill="none" stroke="#cdcdcf" stroke-width="1.9"/><path d="M529.4,913.9 C532.6,917.1 552.6,916.3 555.8,913.1" fill="none" stroke="#cdcdcf" stroke-width="1.9"/><path d="M529.4,917.6 C532.6,920.8 552.6,920.0 555.8,916.8" fill="none" stroke="#cdcdcf" stroke-width="1.9"/><path d="M529.4,921.3 C532.6,924.5 552.6,923.7 555.8,920.5" fill="none" stroke="#cdcdcf" stroke-width="1.9"/><path d="M529.4,925.0 C532.6,928.2 552.6,927.4 555.8,924.2" fill="none" stroke="#cdcdcf" stroke-width="1.9"/><path d="M529.4,928.8 C532.6,932.0 552.6,931.2 555.8,928.0" fill="none" stroke="#cdcdcf" stroke-width="1.9"/><path d="M529.4,932.5 C532.6,935.7 552.6,934.9 555.8,931.7" fill="none" stroke="#cdcdcf" stroke-width="1.9"/><path d="M529.4,936.2 C532.6,939.4 552.6,938.6 555.8,935.4" fill="none" stroke="#cdcdcf" stroke-width="1.9"/><path d="M529.4,939.9 C532.6,943.1 552.6,942.3 555.8,939.1" fill="none" stroke="#cdcdcf" stroke-width="1.9"/><path d="M529.4,943.6 C532.6,946.8 552.6,946.0 555.8,942.8" fill="none" stroke="#cdcdcf" stroke-width="1.9"/><path d="M529.4,947.4 C532.6,950.6 552.6,949.8 555.8,946.6" fill="none" stroke="#cdcdcf" stroke-width="1.9"/><path d="M529.4,951.1 C532.6,954.3 552.6,953.5 555.8,950.3" fill="none" stroke="#cdcdcf" stroke-width="1.9"/><path d="M529.4,954.8 C532.6,958.0 552.6,957.2 555.8,954.0" fill="none" stroke="#cdcdcf" stroke-width="1.9"/><path d="M529.4,958.5 C532.6,961.7 552.6,960.9 555.8,957.7" fill="none" stroke="#cdcdcf" stroke-width="1.9"/><path d="M529.4,962.2 C532.6,965.4 552.6,964.6 555.8,961.4" fill="none" stroke="#cdcdcf" stroke-width="1.9"/><path d="M529.4,966.0 C532.6,969.2 552.6,968.4 555.8,965.2" fill="none" stroke="#cdcdcf" stroke-width="1.9"/><path d="M529.4,969.7 C532.6,972.9 552.6,972.1 555.8,968.9" fill="none" stroke="#cdcdcf" stroke-width="1.9"/><path d="M529.4,973.4 C532.6,976.6 552.6,975.8 555.8,972.6" fill="none" stroke="#cdcdcf" stroke-width="1.9"/><path d="M529.4,977.1 C532.6,980.3 552.6,979.5 555.8,976.3" fill="none" stroke="#cdcdcf" stroke-width="1.9"/><path d="M529.4,980.8 C532.6,984.0 552.6,983.2 555.8,980.0" fill="none" stroke="#cdcdcf" stroke-width="1.9"/><path d="M529.4,984.6 C532.6,987.8 552.6,987.0 555.8,983.8" fill="none" stroke="#cdcdcf" stroke-width="1.9"/><path d="M529.4,988.3 C532.6,991.5 552.6,990.7 555.8,987.5" fill="none" stroke="#cdcdcf" stroke-width="1.9"/><path d="M529.4,992.0 C532.6,995.2 552.6,994.4 555.8,991.2" fill="none" stroke="#cdcdcf" stroke-width="1.9"/><path d="M529.4,995.7 C532.6,998.9 552.6,998.1 555.8,994.9" fill="none" stroke="#cdcdcf" stroke-width="1.9"/><path d="M529.4,999.4 C532.6,1002.6 552.6,1001.8 555.8,998.6" fill="none" stroke="#cdcdcf" stroke-width="1.9"/><path d="M529.4,1003.2 C532.6,1006.4 552.6,1005.6 555.8,1002.4" fill="none" stroke="#cdcdcf" stroke-width="1.9"/><path d="M529.4,1006.9 C532.6,1010.1 552.6,1009.3 555.8,1006.1" fill="none" stroke="#cdcdcf" stroke-width="1.9"/><path d="M529.4,1010.6 C532.6,1013.8 552.6,1013.0 555.8,1009.8" fill="none" stroke="#cdcdcf" stroke-width="1.9"/><path d="M529.4,1014.3 C532.6,1017.5 552.6,1016.7 555.8,1013.5" fill="none" stroke="#cdcdcf" stroke-width="1.9"/><path d="M529.4,1018.0 C532.6,1021.2 552.6,1020.4 555.8,1017.2" fill="none" stroke="#cdcdcf" stroke-width="1.9"/><path d="M529.4,1021.8 C532.6,1025.0 552.6,1024.2 555.8,1021.0" fill="none" stroke="#cdcdcf" stroke-width="1.9"/><path d="M529.4,1025.5 C532.6,1028.7 552.6,1027.9 555.8,1024.7" fill="none" stroke="#cdcdcf" stroke-width="1.9"/><path d="M529.4,1029.2 C532.6,1032.4 552.6,1031.6 555.8,1028.4" fill="none" stroke="#cdcdcf" stroke-width="1.9"/><path d="M529.4,1032.9 C532.6,1036.1 552.6,1035.3 555.8,1032.1" fill="none" stroke="#cdcdcf" stroke-width="1.9"/><path d="M529.4,1036.6 C532.6,1039.8 552.6,1039.0 555.8,1035.8" fill="none" stroke="#cdcdcf" stroke-width="1.9"/><path d="M529.4,1040.4 C532.6,1043.6 552.6,1042.8 555.8,1039.6" fill="none" stroke="#cdcdcf" stroke-width="1.9"/><path d="M529.4,1044.1 C532.6,1047.3 552.6,1046.5 555.8,1043.3" fill="none" stroke="#cdcdcf" stroke-width="1.9"/><path d="M529.4,1047.8 C532.6,1051.0 552.6,1050.2 555.8,1047.0" fill="none" stroke="#cdcdcf" stroke-width="1.9"/><path d="M529.4,1051.5 C532.6,1054.7 552.6,1053.9 555.8,1050.7" fill="none" stroke="#cdcdcf" stroke-width="1.9"/><path d="M529.4,1055.2 C532.6,1058.4 552.6,1057.6 555.8,1054.4" fill="none" stroke="#cdcdcf" stroke-width="1.9"/><path d="M529.4,1059.0 C532.6,1062.2 552.6,1061.4 555.8,1058.2" fill="none" stroke="#cdcdcf" stroke-width="1.9"/><path d="M529.4,1062.7 C532.6,1065.9 552.6,1065.1 555.8,1061.9" fill="none" stroke="#cdcdcf" stroke-width="1.9"/><path d="M529.4,1066.4 C532.6,1069.6 552.6,1068.8 555.8,1065.6" fill="none" stroke="#cdcdcf" stroke-width="1.9"/><path d="M529.4,1070.1 C532.6,1073.3 552.6,1072.5 555.8,1069.3" fill="none" stroke="#cdcdcf" stroke-width="1.9"/><path d="M529.4,1073.8 C532.6,1077.0 552.6,1076.2 555.8,1073.0" fill="none" stroke="#cdcdcf" stroke-width="1.9"/><path d="M529.4,1077.6 C532.6,1080.8 552.6,1080.0 555.8,1076.8" fill="none" stroke="#cdcdcf" stroke-width="1.9"/><path d="M529.4,1081.3 C532.6,1084.5 552.6,1083.7 555.8,1080.5" fill="none" stroke="#cdcdcf" stroke-width="1.9"/><path d="M529.4,1085.0 C532.6,1088.2 552.6,1087.4 555.8,1084.2" fill="none" stroke="#cdcdcf" stroke-width="1.9"/><path d="M529.4,1088.7 C532.6,1091.9 552.6,1091.1 555.8,1087.9" fill="none" stroke="#cdcdcf" stroke-width="1.9"/><path d="M529.4,1092.4 C532.6,1095.6 552.6,1094.8 555.8,1091.6" fill="none" stroke="#cdcdcf" stroke-width="1.9"/><path d="M529.4,1096.2 C532.6,1099.4 552.6,1098.6 555.8,1095.4" fill="none" stroke="#cdcdcf" stroke-width="1.9"/><path d="M529.4,1099.9 C532.6,1103.1 552.6,1102.3 555.8,1099.1" fill="none" stroke="#cdcdcf" stroke-width="1.9"/><path d="M529.4,1103.6 C532.6,1106.8 552.6,1106.0 555.8,1102.8" fill="none" stroke="#cdcdcf" stroke-width="1.9"/><path d="M529.4,1107.3 C532.6,1110.5 552.6,1109.7 555.8,1106.5" fill="none" stroke="#cdcdcf" stroke-width="1.9"/><path d="M529.4,1111.0 C532.6,1114.2 552.6,1113.4 555.8,1110.2" fill="none" stroke="#cdcdcf" stroke-width="1.9"/><path d="M529.4,1114.8 C532.6,1118.0 552.6,1117.2 555.8,1114.0" fill="none" stroke="#cdcdcf" stroke-width="1.9"/><path d="M529.4,1118.5 C532.6,1121.7 552.6,1120.9 555.8,1117.7" fill="none" stroke="#cdcdcf" stroke-width="1.9"/><path d="M529.4,1122.2 C532.6,1125.4 552.6,1124.6 555.8,1121.4" fill="none" stroke="#cdcdcf" stroke-width="1.9"/><path d="M529.4,1125.9 C532.6,1129.1 552.6,1128.3 555.8,1125.1" fill="none" stroke="#cdcdcf" stroke-width="1.9"/></g>
<path d="M528.6,897 L528.6,1122 Q533,1131 539,1127 Q543,1122 547,1127 Q553,1131 556.6,1122 L556.6,897 Z" fill="none" stroke="#2a1c16" stroke-width="2"/>
<path d="M528.4,442 L528.4,16 Q533,9 540,12 Q545,17 549,12 Q554,9 556.1,16 L556.1,442 Z" fill="#636365"/>
<path d="M529.2,15.0 C532.4,18.2 552.1,17.4 555.3,14.2" fill="none" stroke="#cdcdcf" stroke-width="1.9"/><path d="M529.2,18.7 C532.4,21.9 552.1,21.1 555.3,17.9" fill="none" stroke="#cdcdcf" stroke-width="1.9"/><path d="M529.2,22.4 C532.4,25.6 552.1,24.8 555.3,21.6" fill="none" stroke="#cdcdcf" stroke-width="1.9"/><path d="M529.2,26.2 C532.4,29.4 552.1,28.6 555.3,25.4" fill="none" stroke="#cdcdcf" stroke-width="1.9"/><path d="M529.2,29.9 C532.4,33.1 552.1,32.3 555.3,29.1" fill="none" stroke="#cdcdcf" stroke-width="1.9"/><path d="M529.2,33.6 C532.4,36.8 552.1,36.0 555.3,32.8" fill="none" stroke="#cdcdcf" stroke-width="1.9"/><path d="M529.2,37.3 C532.4,40.5 552.1,39.7 555.3,36.5" fill="none" stroke="#cdcdcf" stroke-width="1.9"/><path d="M529.2,41.0 C532.4,44.2 552.1,43.4 555.3,40.2" fill="none" stroke="#cdcdcf" stroke-width="1.9"/><path d="M529.2,44.8 C532.4,48.0 552.1,47.2 555.3,44.0" fill="none" stroke="#cdcdcf" stroke-width="1.9"/><path d="M529.2,48.5 C532.4,51.7 552.1,50.9 555.3,47.7" fill="none" stroke="#cdcdcf" stroke-width="1.9"/><path d="M529.2,52.2 C532.4,55.4 552.1,54.6 555.3,51.4" fill="none" stroke="#cdcdcf" stroke-width="1.9"/><path d="M529.2,55.9 C532.4,59.1 552.1,58.3 555.3,55.1" fill="none" stroke="#cdcdcf" stroke-width="1.9"/><path d="M529.2,59.6 C532.4,62.8 552.1,62.0 555.3,58.8" fill="none" stroke="#cdcdcf" stroke-width="1.9"/><path d="M529.2,63.4 C532.4,66.6 552.1,65.8 555.3,62.6" fill="none" stroke="#cdcdcf" stroke-width="1.9"/><path d="M529.2,67.1 C532.4,70.3 552.1,69.5 555.3,66.3" fill="none" stroke="#cdcdcf" stroke-width="1.9"/><path d="M529.2,70.8 C532.4,74.0 552.1,73.2 555.3,70.0" fill="none" stroke="#cdcdcf" stroke-width="1.9"/><path d="M529.2,74.5 C532.4,77.7 552.1,76.9 555.3,73.7" fill="none" stroke="#cdcdcf" stroke-width="1.9"/><path d="M529.2,78.2 C532.4,81.4 552.1,80.6 555.3,77.4" fill="none" stroke="#cdcdcf" stroke-width="1.9"/><path d="M529.2,82.0 C532.4,85.2 552.1,84.4 555.3,81.2" fill="none" stroke="#cdcdcf" stroke-width="1.9"/><path d="M529.2,85.7 C532.4,88.9 552.1,88.1 555.3,84.9" fill="none" stroke="#cdcdcf" stroke-width="1.9"/><path d="M529.2,89.4 C532.4,92.6 552.1,91.8 555.3,88.6" fill="none" stroke="#cdcdcf" stroke-width="1.9"/><path d="M529.2,93.1 C532.4,96.3 552.1,95.5 555.3,92.3" fill="none" stroke="#cdcdcf" stroke-width="1.9"/><path d="M529.2,96.8 C532.4,100.0 552.1,99.2 555.3,96.0" fill="none" stroke="#cdcdcf" stroke-width="1.9"/><path d="M529.2,100.6 C532.4,103.8 552.1,103.0 555.3,99.8" fill="none" stroke="#cdcdcf" stroke-width="1.9"/><path d="M529.2,104.3 C532.4,107.5 552.1,106.7 555.3,103.5" fill="none" stroke="#cdcdcf" stroke-width="1.9"/><path d="M529.2,108.0 C532.4,111.2 552.1,110.4 555.3,107.2" fill="none" stroke="#cdcdcf" stroke-width="1.9"/><path d="M529.2,111.7 C532.4,114.9 552.1,114.1 555.3,110.9" fill="none" stroke="#cdcdcf" stroke-width="1.9"/><path d="M529.2,115.4 C532.4,118.6 552.1,117.8 555.3,114.6" fill="none" stroke="#cdcdcf" stroke-width="1.9"/><path d="M529.2,119.2 C532.4,122.4 552.1,121.6 555.3,118.4" fill="none" stroke="#cdcdcf" stroke-width="1.9"/><path d="M529.2,122.9 C532.4,126.1 552.1,125.3 555.3,122.1" fill="none" stroke="#cdcdcf" stroke-width="1.9"/><path d="M529.2,126.6 C532.4,129.8 552.1,129.0 555.3,125.8" fill="none" stroke="#cdcdcf" stroke-width="1.9"/><path d="M529.2,130.3 C532.4,133.5 552.1,132.7 555.3,129.5" fill="none" stroke="#cdcdcf" stroke-width="1.9"/><path d="M529.2,134.0 C532.4,137.2 552.1,136.4 555.3,133.2" fill="none" stroke="#cdcdcf" stroke-width="1.9"/><path d="M529.2,137.8 C532.4,141.0 552.1,140.2 555.3,137.0" fill="none" stroke="#cdcdcf" stroke-width="1.9"/><path d="M529.2,141.5 C532.4,144.7 552.1,143.9 555.3,140.7" fill="none" stroke="#cdcdcf" stroke-width="1.9"/><path d="M529.2,145.2 C532.4,148.4 552.1,147.6 555.3,144.4" fill="none" stroke="#cdcdcf" stroke-width="1.9"/><path d="M529.2,148.9 C532.4,152.1 552.1,151.3 555.3,148.1" fill="none" stroke="#cdcdcf" stroke-width="1.9"/><path d="M529.2,152.6 C532.4,155.8 552.1,155.0 555.3,151.8" fill="none" stroke="#cdcdcf" stroke-width="1.9"/><path d="M529.2,156.4 C532.4,159.6 552.1,158.8 555.3,155.6" fill="none" stroke="#cdcdcf" stroke-width="1.9"/><path d="M529.2,160.1 C532.4,163.3 552.1,162.5 555.3,159.3" fill="none" stroke="#cdcdcf" stroke-width="1.9"/><path d="M529.2,163.8 C532.4,167.0 552.1,166.2 555.3,163.0" fill="none" stroke="#cdcdcf" stroke-width="1.9"/><path d="M529.2,167.5 C532.4,170.7 552.1,169.9 555.3,166.7" fill="none" stroke="#cdcdcf" stroke-width="1.9"/><path d="M529.2,171.2 C532.4,174.4 552.1,173.6 555.3,170.4" fill="none" stroke="#cdcdcf" stroke-width="1.9"/><path d="M529.2,175.0 C532.4,178.2 552.1,177.4 555.3,174.2" fill="none" stroke="#cdcdcf" stroke-width="1.9"/><path d="M529.2,178.7 C532.4,181.9 552.1,181.1 555.3,177.9" fill="none" stroke="#cdcdcf" stroke-width="1.9"/><path d="M529.2,182.4 C532.4,185.6 552.1,184.8 555.3,181.6" fill="none" stroke="#cdcdcf" stroke-width="1.9"/><path d="M529.2,186.1 C532.4,189.3 552.1,188.5 555.3,185.3" fill="none" stroke="#cdcdcf" stroke-width="1.9"/><path d="M529.2,189.8 C532.4,193.0 552.1,192.2 555.3,189.0" fill="none" stroke="#cdcdcf" stroke-width="1.9"/><path d="M529.2,193.6 C532.4,196.8 552.1,196.0 555.3,192.8" fill="none" stroke="#cdcdcf" stroke-width="1.9"/><path d="M529.2,197.3 C532.4,200.5 552.1,199.7 555.3,196.5" fill="none" stroke="#cdcdcf" stroke-width="1.9"/><path d="M529.2,201.0 C532.4,204.2 552.1,203.4 555.3,200.2" fill="none" stroke="#cdcdcf" stroke-width="1.9"/><path d="M529.2,204.7 C532.4,207.9 552.1,207.1 555.3,203.9" fill="none" stroke="#cdcdcf" stroke-width="1.9"/><path d="M529.2,208.4 C532.4,211.6 552.1,210.8 555.3,207.6" fill="none" stroke="#cdcdcf" stroke-width="1.9"/><path d="M529.2,212.2 C532.4,215.4 552.1,214.6 555.3,211.4" fill="none" stroke="#cdcdcf" stroke-width="1.9"/><path d="M529.2,215.9 C532.4,219.1 552.1,218.3 555.3,215.1" fill="none" stroke="#cdcdcf" stroke-width="1.9"/><path d="M529.2,219.6 C532.4,222.8 552.1,222.0 555.3,218.8" fill="none" stroke="#cdcdcf" stroke-width="1.9"/><path d="M529.2,223.3 C532.4,226.5 552.1,225.7 555.3,222.5" fill="none" stroke="#cdcdcf" stroke-width="1.9"/><path d="M529.2,227.0 C532.4,230.2 552.1,229.4 555.3,226.2" fill="none" stroke="#cdcdcf" stroke-width="1.9"/><path d="M529.2,230.8 C532.4,234.0 552.1,233.2 555.3,230.0" fill="none" stroke="#cdcdcf" stroke-width="1.9"/><path d="M529.2,234.5 C532.4,237.7 552.1,236.9 555.3,233.7" fill="none" stroke="#cdcdcf" stroke-width="1.9"/><path d="M529.2,238.2 C532.4,241.4 552.1,240.6 555.3,237.4" fill="none" stroke="#cdcdcf" stroke-width="1.9"/><path d="M529.2,241.9 C532.4,245.1 552.1,244.3 555.3,241.1" fill="none" stroke="#cdcdcf" stroke-width="1.9"/><path d="M529.2,245.6 C532.4,248.8 552.1,248.0 555.3,244.8" fill="none" stroke="#cdcdcf" stroke-width="1.9"/><path d="M529.2,249.4 C532.4,252.6 552.1,251.8 555.3,248.6" fill="none" stroke="#cdcdcf" stroke-width="1.9"/><path d="M529.2,253.1 C532.4,256.3 552.1,255.5 555.3,252.3" fill="none" stroke="#cdcdcf" stroke-width="1.9"/><path d="M529.2,256.8 C532.4,260.0 552.1,259.2 555.3,256.0" fill="none" stroke="#cdcdcf" stroke-width="1.9"/><path d="M529.2,260.5 C532.4,263.7 552.1,262.9 555.3,259.7" fill="none" stroke="#cdcdcf" stroke-width="1.9"/><path d="M529.2,264.2 C532.4,267.4 552.1,266.6 555.3,263.4" fill="none" stroke="#cdcdcf" stroke-width="1.9"/><path d="M529.2,268.0 C532.4,271.2 552.1,270.4 555.3,267.2" fill="none" stroke="#cdcdcf" stroke-width="1.9"/><path d="M529.2,271.7 C532.4,274.9 552.1,274.1 555.3,270.9" fill="none" stroke="#cdcdcf" stroke-width="1.9"/><path d="M529.2,275.4 C532.4,278.6 552.1,277.8 555.3,274.6" fill="none" stroke="#cdcdcf" stroke-width="1.9"/><path d="M529.2,279.1 C532.4,282.3 552.1,281.5 555.3,278.3" fill="none" stroke="#cdcdcf" stroke-width="1.9"/><path d="M529.2,282.8 C532.4,286.0 552.1,285.2 555.3,282.0" fill="none" stroke="#cdcdcf" stroke-width="1.9"/><path d="M529.2,286.6 C532.4,289.8 552.1,289.0 555.3,285.8" fill="none" stroke="#cdcdcf" stroke-width="1.9"/><path d="M529.2,290.3 C532.4,293.5 552.1,292.7 555.3,289.5" fill="none" stroke="#cdcdcf" stroke-width="1.9"/><path d="M529.2,294.0 C532.4,297.2 552.1,296.4 555.3,293.2" fill="none" stroke="#cdcdcf" stroke-width="1.9"/><path d="M529.2,297.7 C532.4,300.9 552.1,300.1 555.3,296.9" fill="none" stroke="#cdcdcf" stroke-width="1.9"/><path d="M529.2,301.4 C532.4,304.6 552.1,303.8 555.3,300.6" fill="none" stroke="#cdcdcf" stroke-width="1.9"/><path d="M529.2,305.2 C532.4,308.4 552.1,307.6 555.3,304.4" fill="none" stroke="#cdcdcf" stroke-width="1.9"/><path d="M529.2,308.9 C532.4,312.1 552.1,311.3 555.3,308.1" fill="none" stroke="#cdcdcf" stroke-width="1.9"/><path d="M529.2,312.6 C532.4,315.8 552.1,315.0 555.3,311.8" fill="none" stroke="#cdcdcf" stroke-width="1.9"/><path d="M529.2,316.3 C532.4,319.5 552.1,318.7 555.3,315.5" fill="none" stroke="#cdcdcf" stroke-width="1.9"/><path d="M529.2,320.0 C532.4,323.2 552.1,322.4 555.3,319.2" fill="none" stroke="#cdcdcf" stroke-width="1.9"/><path d="M529.2,323.8 C532.4,327.0 552.1,326.2 555.3,323.0" fill="none" stroke="#cdcdcf" stroke-width="1.9"/><path d="M529.2,327.5 C532.4,330.7 552.1,329.9 555.3,326.7" fill="none" stroke="#cdcdcf" stroke-width="1.9"/><path d="M529.2,331.2 C532.4,334.4 552.1,333.6 555.3,330.4" fill="none" stroke="#cdcdcf" stroke-width="1.9"/><path d="M529.2,334.9 C532.4,338.1 552.1,337.3 555.3,334.1" fill="none" stroke="#cdcdcf" stroke-width="1.9"/><path d="M529.2,338.6 C532.4,341.8 552.1,341.0 555.3,337.8" fill="none" stroke="#cdcdcf" stroke-width="1.9"/><path d="M529.2,342.4 C532.4,345.6 552.1,344.8 555.3,341.6" fill="none" stroke="#cdcdcf" stroke-width="1.9"/><path d="M529.2,346.1 C532.4,349.3 552.1,348.5 555.3,345.3" fill="none" stroke="#cdcdcf" stroke-width="1.9"/><path d="M529.2,349.8 C532.4,353.0 552.1,352.2 555.3,349.0" fill="none" stroke="#cdcdcf" stroke-width="1.9"/><path d="M529.2,353.5 C532.4,356.7 552.1,355.9 555.3,352.7" fill="none" stroke="#cdcdcf" stroke-width="1.9"/><path d="M529.2,357.2 C532.4,360.4 552.1,359.6 555.3,356.4" fill="none" stroke="#cdcdcf" stroke-width="1.9"/><path d="M529.2,361.0 C532.4,364.2 552.1,363.4 555.3,360.2" fill="none" stroke="#cdcdcf" stroke-width="1.9"/><path d="M529.2,364.7 C532.4,367.9 552.1,367.1 555.3,363.9" fill="none" stroke="#cdcdcf" stroke-width="1.9"/><path d="M529.2,368.4 C532.4,371.6 552.1,370.8 555.3,367.6" fill="none" stroke="#cdcdcf" stroke-width="1.9"/><path d="M529.2,372.1 C532.4,375.3 552.1,374.5 555.3,371.3" fill="none" stroke="#cdcdcf" stroke-width="1.9"/><path d="M529.2,375.8 C532.4,379.0 552.1,378.2 555.3,375.0" fill="none" stroke="#cdcdcf" stroke-width="1.9"/><path d="M529.2,379.6 C532.4,382.8 552.1,382.0 555.3,378.8" fill="none" stroke="#cdcdcf" stroke-width="1.9"/><path d="M529.2,383.3 C532.4,386.5 552.1,385.7 555.3,382.5" fill="none" stroke="#cdcdcf" stroke-width="1.9"/><path d="M529.2,387.0 C532.4,390.2 552.1,389.4 555.3,386.2" fill="none" stroke="#cdcdcf" stroke-width="1.9"/><path d="M529.2,390.7 C532.4,393.9 552.1,393.1 555.3,389.9" fill="none" stroke="#cdcdcf" stroke-width="1.9"/><path d="M529.2,394.4 C532.4,397.6 552.1,396.8 555.3,393.6" fill="none" stroke="#cdcdcf" stroke-width="1.9"/><path d="M529.2,398.2 C532.4,401.4 552.1,400.6 555.3,397.4" fill="none" stroke="#cdcdcf" stroke-width="1.9"/><path d="M529.2,401.9 C532.4,405.1 552.1,404.3 555.3,401.1" fill="none" stroke="#cdcdcf" stroke-width="1.9"/><path d="M529.2,405.6 C532.4,408.8 552.1,408.0 555.3,404.8" fill="none" stroke="#cdcdcf" stroke-width="1.9"/><path d="M529.2,409.3 C532.4,412.5 552.1,411.7 555.3,408.5" fill="none" stroke="#cdcdcf" stroke-width="1.9"/><path d="M529.2,413.0 C532.4,416.2 552.1,415.4 555.3,412.2" fill="none" stroke="#cdcdcf" stroke-width="1.9"/><path d="M529.2,416.8 C532.4,420.0 552.1,419.2 555.3,416.0" fill="none" stroke="#cdcdcf" stroke-width="1.9"/><path d="M529.2,420.5 C532.4,423.7 552.1,422.9 555.3,419.7" fill="none" stroke="#cdcdcf" stroke-width="1.9"/><path d="M529.2,424.2 C532.4,427.4 552.1,426.6 555.3,423.4" fill="none" stroke="#cdcdcf" stroke-width="1.9"/><path d="M529.2,427.9 C532.4,431.1 552.1,430.3 555.3,427.1" fill="none" stroke="#cdcdcf" stroke-width="1.9"/><path d="M529.2,431.6 C532.4,434.8 552.1,434.0 555.3,430.8" fill="none" stroke="#cdcdcf" stroke-width="1.9"/><path d="M529.2,435.4 C532.4,438.6 552.1,437.8 555.3,434.6" fill="none" stroke="#cdcdcf" stroke-width="1.9"/><path d="M529.2,439.1 C532.4,442.3 552.1,441.5 555.3,438.3" fill="none" stroke="#cdcdcf" stroke-width="1.9"/>
<path d="M530,17 Q535,12 540,15 Q545,19 549,14 Q553,12 555,17" fill="none" stroke="#cdcdcf" stroke-width="1.5"/>
<path d="M528.4,442 L528.4,16 Q533,9 540,12 Q545,17 549,12 Q554,9 556.1,16 L556.1,442 Z" fill="none" stroke="#2a1c16" stroke-width="2"/>
<path d="M521.7,125 L525,118.7 L560,118.7 L563.4,125 L563.4,193 L560,197.5 L525,197.5 L521.7,193 Z" fill="#d0dbe5" stroke="#2a1c16" stroke-width="2"/>
<polyline points="543.8,126.0 543.8,197.0" fill="none" stroke="#2a1c16" stroke-width="1.5" stroke-linejoin="round" stroke-linecap="round" />
<polyline points="521.7,125.0 543.8,127.0 563.4,125.0" fill="none" stroke="#2a1c16" stroke-width="1.5" stroke-linejoin="round" stroke-linecap="round" />
<circle cx="533.6" cy="153.0" r="3.9" fill="#2a1c16"/>
<path d="M532,151.2 Q531.2,153.8 533.6,155.0" fill="none" stroke="#cfd8e0" stroke-width="1.1"/>
<circle cx="533.6" cy="172.0" r="3.9" fill="#2a1c16"/>
<path d="M532,170.2 Q531.2,172.8 533.6,174.0" fill="none" stroke="#cfd8e0" stroke-width="1.1"/>
<g clip-path="url(#c30)">
<polygon points="420.5,570.0 469.6,536.6 663.9,565.0 614.8,598.4" fill="#a9aaad" stroke="#2a1c16" stroke-width="2.2" stroke-linejoin="round" />
<polygon points="420.5,570.0 614.8,598.4 614.8,619.0 420.5,589.0" fill="#b3b4b7" stroke="#2a1c16" stroke-width="2.2" stroke-linejoin="round" />
<polygon points="614.8,598.4 663.9,565.0 663.9,585.6 614.8,619.0" fill="#b3b4b7" stroke="#2a1c16" stroke-width="2.2" stroke-linejoin="round" />
</g>
<path d="M515,580.5 Q542.7,584 575,578 Q586,573 588,566" fill="none" stroke="#fafafa" stroke-width="1.6"/>
<path d="M499.4,494 L499.4,566 Q499.4,580 542.7,580 Q586,580 586,566 L586,494 Z" fill="#3a3a3c"/>
<g clip-path="url(#c31)"><path d="M499.8,495.0 C512,503.5 573,502.5 585.6,494.0" fill="none" stroke="#bfbfc1" stroke-width="2.0"/><path d="M499.8,498.4 C512,506.9 573,505.9 585.6,497.4" fill="none" stroke="#bfbfc1" stroke-width="2.0"/><path d="M499.8,501.9 C512,510.4 573,509.4 585.6,500.9" fill="none" stroke="#bfbfc1" stroke-width="2.0"/><path d="M499.8,505.3 C512,513.8 573,512.8 585.6,504.3" fill="none" stroke="#bfbfc1" stroke-width="2.0"/><path d="M499.8,508.8 C512,517.3 573,516.3 585.6,507.8" fill="none" stroke="#bfbfc1" stroke-width="2.0"/><path d="M499.8,512.2 C512,520.8 573,519.8 585.6,511.2" fill="none" stroke="#bfbfc1" stroke-width="2.0"/><path d="M499.8,515.7 C512,524.2 573,523.2 585.6,514.7" fill="none" stroke="#bfbfc1" stroke-width="2.0"/><path d="M499.8,519.2 C512,527.7 573,526.7 585.6,518.2" fill="none" stroke="#bfbfc1" stroke-width="2.0"/><path d="M499.8,522.6 C512,531.1 573,530.1 585.6,521.6" fill="none" stroke="#bfbfc1" stroke-width="2.0"/><path d="M499.8,526.1 C512,534.6 573,533.6 585.6,525.1" fill="none" stroke="#bfbfc1" stroke-width="2.0"/><path d="M499.8,529.5 C512,538.0 573,537.0 585.6,528.5" fill="none" stroke="#bfbfc1" stroke-width="2.0"/><path d="M499.8,533.0 C512,541.5 573,540.5 585.6,532.0" fill="none" stroke="#bfbfc1" stroke-width="2.0"/><path d="M499.8,536.4 C512,544.9 573,543.9 585.6,535.4" fill="none" stroke="#bfbfc1" stroke-width="2.0"/><path d="M499.8,539.9 C512,548.4 573,547.4 585.6,538.9" fill="none" stroke="#bfbfc1" stroke-width="2.0"/><path d="M499.8,543.3 C512,551.8 573,550.8 585.6,542.3" fill="none" stroke="#bfbfc1" stroke-width="2.0"/><path d="M499.8,546.8 C512,555.3 573,554.3 585.6,545.8" fill="none" stroke="#bfbfc1" stroke-width="2.0"/><path d="M499.8,550.2 C512,558.7 573,557.7 585.6,549.2" fill="none" stroke="#bfbfc1" stroke-width="2.0"/><path d="M499.8,553.7 C512,562.2 573,561.2 585.6,552.7" fill="none" stroke="#bfbfc1" stroke-width="2.0"/><path d="M499.8,557.1 C512,565.6 573,564.6 585.6,556.1" fill="none" stroke="#bfbfc1" stroke-width="2.0"/><path d="M499.8,560.6 C512,569.1 573,568.1 585.6,559.6" fill="none" stroke="#bfbfc1" stroke-width="2.0"/><path d="M499.8,564.0 C512,572.5 573,571.5 585.6,563.0" fill="none" stroke="#bfbfc1" stroke-width="2.0"/><path d="M499.8,567.5 C512,576.0 573,575.0 585.6,566.5" fill="none" stroke="#bfbfc1" stroke-width="2.0"/><path d="M499.8,570.9 C512,579.4 573,578.4 585.6,569.9" fill="none" stroke="#bfbfc1" stroke-width="2.0"/></g>
<path d="M499.4,494 L499.4,566 Q499.4,580 542.7,580 Q586,580 586,566 L586,494 Z" fill="none" stroke="#2a1c16" stroke-width="2.2"/>
<path d="M510,500 Q542.7,511 576,502" fill="none" stroke="#f4f4f4" stroke-width="1.6"/>
<polygon points="470.8,476.0 518.6,445.5 614.2,459.0 566.4,489.5" fill="#a9aaad" stroke="#2a1c16" stroke-width="2.2" stroke-linejoin="round" />
<polygon points="470.8,476.0 566.4,489.5 566.4,501.0 470.8,487.5" fill="#b3b4b7" stroke="#2a1c16" stroke-width="2.2" stroke-linejoin="round" />
<polygon points="566.4,489.5 614.2,459.0 614.2,470.5 566.4,501.0" fill="#b3b4b7" stroke="#2a1c16" stroke-width="2.2" stroke-linejoin="round" />
<polygon points="517.8,440.0 524.0,435.5 560.0,433.5 565.4,435.4 567.7,438.0 567.7,468.2 544.0,474.6 517.8,469.4" fill="#acadb0" stroke="#2a1c16" stroke-width="2.4" stroke-linejoin="round" />
<ellipse cx="542.9" cy="440.5" rx="23.5" ry="6" fill="#b3b4b7" stroke="#2a1c16" stroke-width="1.6"/>
<polyline points="518.5,444.6 544.0,449.8 567.0,444.0" fill="none" stroke="#2a1c16" stroke-width="1.8" stroke-linejoin="round" stroke-linecap="round" />
<polyline points="544.0,449.8 544.0,474.6" fill="none" stroke="#2a1c16" stroke-width="1.8" stroke-linejoin="round" stroke-linecap="round" />
<rect x="528.4" y="420" width="27.7" height="21" fill="#636365"/>
<path d="M529.2,421.0 C532.4,424.2 552.1,423.4 555.3,420.2" fill="none" stroke="#cdcdcf" stroke-width="1.9"/><path d="M529.2,424.7 C532.4,427.9 552.1,427.1 555.3,423.9" fill="none" stroke="#cdcdcf" stroke-width="1.9"/><path d="M529.2,428.4 C532.4,431.6 552.1,430.8 555.3,427.6" fill="none" stroke="#cdcdcf" stroke-width="1.9"/><path d="M529.2,432.2 C532.4,435.4 552.1,434.6 555.3,431.4" fill="none" stroke="#cdcdcf" stroke-width="1.9"/><path d="M529.2,435.9 C532.4,439.1 552.1,438.3 555.3,435.1" fill="none" stroke="#cdcdcf" stroke-width="1.9"/>
<path d="M528.4,420 L528.4,441 Q542,444 556.1,441 L556.1,420" fill="none" stroke="#2a1c16" stroke-width="2.2"/>
<polyline points="881.0,157.6 795.3,157.6 607.0,436.0" fill="none" stroke="#2a1c16" stroke-width="2.2" stroke-linejoin="round" stroke-linecap="round" />
<polygon points="585.9,468.0 599.2,429.6 616.5,441.2" fill="#2a1c16" stroke="none" stroke-width="0" stroke-linejoin="round" />
<polyline points="881.0,271.0 805.7,271.0 617.8,548.5" fill="none" stroke="#2a1c16" stroke-width="2.2" stroke-linejoin="round" stroke-linecap="round" />
<polygon points="596.4,580.6 609.7,542.8 627.0,554.2" fill="#2a1c16" stroke="none" stroke-width="0" stroke-linejoin="round" />
<polyline points="265.6,388.7 323.0,389.0 468.4,506.0" fill="none" stroke="#2a1c16" stroke-width="2.2" stroke-linejoin="round" stroke-linecap="round" />
<polygon points="498.4,529.0 462.0,514.0 474.7,498.5" fill="#2a1c16" stroke="none" stroke-width="0" stroke-linejoin="round" />
<text x="900.8" y="172" font-family="Liberation Sans" font-size="60.3" fill="#2a1c16" stroke="#2a1c16" stroke-width="0.5" textLength="161.4" lengthAdjust="spacingAndGlyphs">BP/LBP</text>
<text x="901.3" y="283.4" font-family="Liberation Sans" font-size="62.2" fill="#2a1c16" stroke="#2a1c16" stroke-width="0.5" textLength="53.0" lengthAdjust="spacingAndGlyphs">PL</text>
<text x="21" y="403" font-family="Liberation Sans" font-size="60.9" fill="#2a1c16" stroke="#2a1c16" stroke-width="0.5" textLength="232.0" lengthAdjust="spacingAndGlyphs">ATUD/TUD</text>
</svg>
</body></html>
